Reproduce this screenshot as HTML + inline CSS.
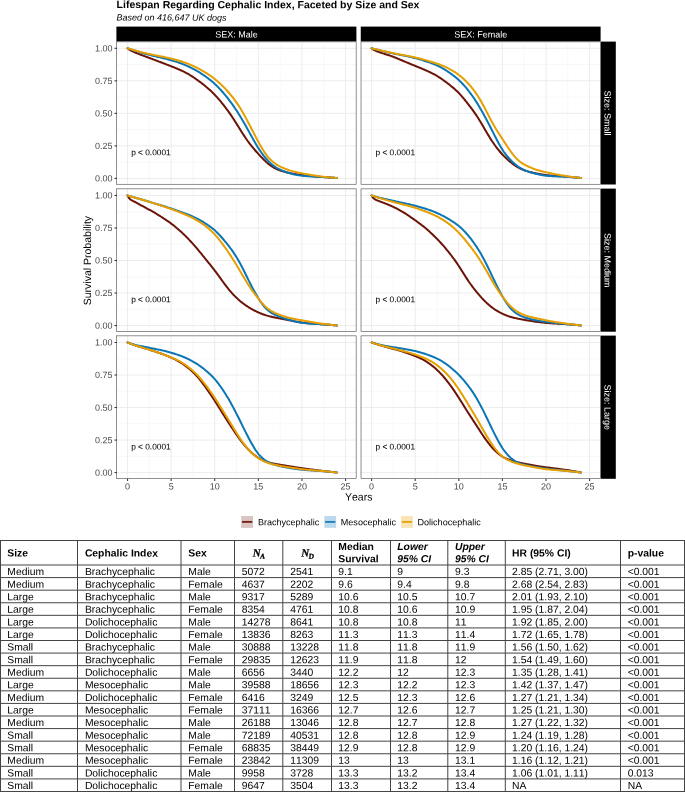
<!DOCTYPE html>
<html><head><meta charset="utf-8"><title>Lifespan Regarding Cephalic Index</title>
<style>
html,body{margin:0;padding:0;background:#fff;}
body{width:685px;height:792px;position:relative;overflow:hidden;font-family:"Liberation Sans", sans-serif;}
svg text{white-space:pre;text-rendering:geometricPrecision;font-kerning:none;}
svg{will-change:transform;}
</style></head><body>
<svg width="685" height="792" viewBox="0 0 685 792" style="position:absolute;left:0;top:0">
<rect width="685" height="792" fill="#fff"/>
<text x="116.6" y="8.1" font-size="10.5" font-weight="bold" fill="#000" transform="rotate(0.03 116.6 8.1)">Lifespan Regarding Cephalic Index, Faceted by Size and Sex</text>
<text x="116.5" y="20.6" font-size="9" font-style="italic" fill="#000" transform="rotate(0.03 116.5 20.6)">Based on 416,647 UK dogs</text>
<rect x="116.4" y="26.6" width="240.00" height="15.00" fill="#000"/>
<text x="236.40" y="37.6" font-size="9" fill="#fff" text-anchor="middle" transform="rotate(0.03 236.40 37.6)">SEX: Male</text>
<rect x="360.75" y="26.6" width="239.85" height="15.00" fill="#000"/>
<text x="480.68" y="37.6" font-size="9" fill="#fff" text-anchor="middle" transform="rotate(0.03 480.68 37.6)">SEX: Female</text>
<rect x="600.6" y="41.6" width="15.20" height="142.90" fill="#000"/>
<text transform="translate(604.5,113.05) rotate(90.03)" font-size="9" fill="#fff" text-anchor="middle">Size: Small</text>
<rect x="600.6" y="188.6" width="15.20" height="143.10" fill="#000"/>
<text transform="translate(604.5,260.15) rotate(90.03)" font-size="9" fill="#fff" text-anchor="middle">Size: Medium</text>
<rect x="600.6" y="335.6" width="15.20" height="143.20" fill="#000"/>
<text transform="translate(604.5,407.20) rotate(90.03)" font-size="9" fill="#fff" text-anchor="middle">Size: Large</text>
<g>
<rect x="116.4" y="41.6" width="240.00" height="142.90" fill="#fff"/>
<path d="M149.35 41.6V184.5M192.95 41.6V184.5M236.55 41.6V184.5M280.15 41.6V184.5M323.75 41.6V184.5M116.4 162.14H356.4M116.4 129.61H356.4M116.4 97.09H356.4M116.4 64.56H356.4" stroke="#f0f0f0" stroke-width="0.5" fill="none"/>
<path d="M127.55 41.6V184.5M171.15 41.6V184.5M214.75 41.6V184.5M258.35 41.6V184.5M301.95 41.6V184.5M345.55 41.6V184.5M116.4 178.40H356.4M116.4 145.88H356.4M116.4 113.35H356.4M116.4 80.82H356.4M116.4 48.30H356.4" stroke="#eaeaea" stroke-width="0.9" fill="none"/>
<path d="M127.55 48.30L128.42 48.97L129.29 49.56L130.17 50.07L131.04 50.55L131.91 51.00L132.78 51.43L133.65 51.84L134.53 52.23L135.40 52.62L136.27 52.98L137.14 53.34L138.01 53.69L138.89 54.03L139.76 54.36L140.63 54.69L141.50 55.02L142.37 55.34L143.25 55.66L144.12 55.98L144.99 56.31L145.86 56.63L146.73 56.96L147.61 57.29L148.48 57.61L149.35 57.94L150.22 58.27L151.09 58.60L151.97 58.93L152.84 59.26L153.71 59.59L154.58 59.92L155.45 60.25L156.33 60.58L157.20 60.90L158.07 61.23L158.94 61.56L159.81 61.89L160.69 62.22L161.56 62.55L162.43 62.88L163.30 63.22L164.17 63.55L165.05 63.89L165.92 64.22L166.79 64.56L167.66 64.90L168.53 65.24L169.41 65.58L170.28 65.92L171.15 66.26L172.02 66.60L172.89 66.95L173.77 67.30L174.64 67.65L175.51 68.00L176.38 68.36L177.25 68.72L178.13 69.09L179.00 69.46L179.87 69.85L180.74 70.24L181.61 70.64L182.49 71.04L183.36 71.46L184.23 71.89L185.10 72.33L185.97 72.79L186.85 73.26L187.72 73.74L188.59 74.24L189.46 74.75L190.33 75.28L191.21 75.82L192.08 76.38L192.95 76.95L193.82 77.54L194.69 78.13L195.57 78.74L196.44 79.35L197.31 79.97L198.18 80.60L199.05 81.24L199.93 81.88L200.80 82.54L201.67 83.20L202.54 83.87L203.41 84.56L204.29 85.25L205.16 85.96L206.03 86.67L206.90 87.40L207.77 88.15L208.65 88.91L209.52 89.69L210.39 90.48L211.26 91.29L212.13 92.13L213.01 92.98L213.88 93.86L214.75 94.77L215.62 95.69L216.49 96.65L217.37 97.62L218.24 98.62L219.11 99.64L219.98 100.67L220.85 101.73L221.73 102.80L222.60 103.89L223.47 104.99L224.34 106.10L225.21 107.23L226.09 108.37L226.96 109.53L227.83 110.71L228.70 111.91L229.57 113.13L230.45 114.38L231.32 115.65L232.19 116.94L233.06 118.26L233.93 119.60L234.81 120.97L235.68 122.35L236.55 123.75L237.42 125.15L238.29 126.56L239.17 127.96L240.04 129.36L240.91 130.75L241.78 132.13L242.65 133.49L243.53 134.84L244.40 136.16L245.27 137.46L246.14 138.74L247.01 139.99L247.89 141.21L248.76 142.40L249.63 143.57L250.50 144.70L251.37 145.81L252.25 146.89L253.12 147.94L253.99 148.98L254.86 149.99L255.73 150.99L256.61 151.98L257.48 152.95L258.35 153.92L259.22 154.87L260.09 155.82L260.97 156.75L261.84 157.67L262.71 158.57L263.58 159.45L264.45 160.31L265.33 161.14L266.20 161.94L267.07 162.72L267.94 163.46L268.81 164.18L269.69 164.86L270.56 165.51L271.43 166.12L272.30 166.70L273.17 167.25L274.05 167.76L274.92 168.24L275.79 168.68L276.66 169.10L277.53 169.48L278.41 169.84L279.28 170.18L280.15 170.49L281.02 170.78L281.89 171.06L282.77 171.32L283.64 171.56L284.51 171.80L285.38 172.02L286.25 172.23L287.13 172.44L288.00 172.63L288.87 172.82L289.74 173.01L290.61 173.18L291.49 173.36L292.36 173.53L293.23 173.69L294.10 173.85L294.97 174.01L295.85 174.16L296.72 174.31L297.59 174.45L298.46 174.59L299.33 174.72L300.21 174.85L301.08 174.97L301.95 175.09L302.82 175.20L303.69 175.31L304.57 175.41L305.44 175.51L306.31 175.60L307.18 175.69L308.05 175.78L308.93 175.87L309.80 175.95L310.67 176.03L311.54 176.11L312.41 176.19L313.29 176.26L314.16 176.34L315.03 176.41L315.90 176.48L316.77 176.55L317.65 176.62L318.52 176.69L319.39 176.76L320.26 176.83L321.13 176.89L322.01 176.96L322.88 177.03L323.75 177.09L324.62 177.16L325.49 177.22L326.37 177.29L327.24 177.35L328.11 177.41L328.98 177.47L329.85 177.53L330.73 177.59L331.60 177.65L332.47 177.71L333.34 177.77L334.21 177.83L335.09 177.89L335.96 177.95L336.83 178.01" stroke="#6b1408" stroke-width="2.0" fill="none" stroke-linejoin="round" stroke-linecap="round"/>
<path d="M127.55 48.30L128.42 48.57L129.29 48.84L130.17 49.11L131.04 49.38L131.91 49.66L132.78 49.94L133.65 50.22L134.53 50.49L135.40 50.77L136.27 51.05L137.14 51.33L138.01 51.60L138.89 51.87L139.76 52.14L140.63 52.41L141.50 52.68L142.37 52.94L143.25 53.20L144.12 53.45L144.99 53.70L145.86 53.94L146.73 54.18L147.61 54.42L148.48 54.65L149.35 54.88L150.22 55.10L151.09 55.31L151.97 55.53L152.84 55.73L153.71 55.94L154.58 56.14L155.45 56.34L156.33 56.54L157.20 56.74L158.07 56.94L158.94 57.14L159.81 57.34L160.69 57.55L161.56 57.76L162.43 57.97L163.30 58.19L164.17 58.41L165.05 58.63L165.92 58.86L166.79 59.09L167.66 59.32L168.53 59.56L169.41 59.80L170.28 60.04L171.15 60.28L172.02 60.53L172.89 60.78L173.77 61.04L174.64 61.29L175.51 61.56L176.38 61.83L177.25 62.11L178.13 62.39L179.00 62.69L179.87 62.99L180.74 63.30L181.61 63.63L182.49 63.97L183.36 64.31L184.23 64.67L185.10 65.04L185.97 65.41L186.85 65.80L187.72 66.19L188.59 66.60L189.46 67.01L190.33 67.44L191.21 67.87L192.08 68.31L192.95 68.76L193.82 69.23L194.69 69.70L195.57 70.18L196.44 70.67L197.31 71.17L198.18 71.68L199.05 72.20L199.93 72.73L200.80 73.28L201.67 73.83L202.54 74.40L203.41 74.98L204.29 75.58L205.16 76.18L206.03 76.80L206.90 77.44L207.77 78.09L208.65 78.75L209.52 79.44L210.39 80.13L211.26 80.85L212.13 81.59L213.01 82.34L213.88 83.11L214.75 83.91L215.62 84.72L216.49 85.56L217.37 86.41L218.24 87.29L219.11 88.19L219.98 89.11L220.85 90.05L221.73 91.01L222.60 92.00L223.47 93.00L224.34 94.03L225.21 95.07L226.09 96.14L226.96 97.23L227.83 98.33L228.70 99.46L229.57 100.61L230.45 101.78L231.32 102.97L232.19 104.19L233.06 105.42L233.93 106.67L234.81 107.95L235.68 109.25L236.55 110.57L237.42 111.91L238.29 113.28L239.17 114.67L240.04 116.09L240.91 117.52L241.78 118.99L242.65 120.47L243.53 121.97L244.40 123.50L245.27 125.04L246.14 126.59L247.01 128.16L247.89 129.73L248.76 131.31L249.63 132.89L250.50 134.48L251.37 136.06L252.25 137.63L253.12 139.19L253.99 140.73L254.86 142.25L255.73 143.75L256.61 145.22L257.48 146.65L258.35 148.05L259.22 149.41L260.09 150.73L260.97 152.01L261.84 153.24L262.71 154.43L263.58 155.58L264.45 156.69L265.33 157.75L266.20 158.77L267.07 159.74L267.94 160.68L268.81 161.56L269.69 162.41L270.56 163.22L271.43 163.98L272.30 164.71L273.17 165.40L274.05 166.05L274.92 166.66L275.79 167.24L276.66 167.78L277.53 168.29L278.41 168.77L279.28 169.23L280.15 169.66L281.02 170.07L281.89 170.46L282.77 170.83L283.64 171.19L284.51 171.53L285.38 171.86L286.25 172.17L287.13 172.47L288.00 172.76L288.87 173.04L289.74 173.31L290.61 173.56L291.49 173.79L292.36 174.02L293.23 174.23L294.10 174.43L294.97 174.62L295.85 174.79L296.72 174.96L297.59 175.11L298.46 175.25L299.33 175.38L300.21 175.50L301.08 175.61L301.95 175.71L302.82 175.80L303.69 175.89L304.57 175.97L305.44 176.04L306.31 176.11L307.18 176.17L308.05 176.23L308.93 176.29L309.80 176.35L310.67 176.40L311.54 176.45L312.41 176.49L313.29 176.54L314.16 176.59L315.03 176.63L315.90 176.68L316.77 176.72L317.65 176.77L318.52 176.81L319.39 176.86L320.26 176.91L321.13 176.96L322.01 177.01L322.88 177.06L323.75 177.11L324.62 177.17L325.49 177.23L326.37 177.28L327.24 177.34L328.11 177.40L328.98 177.46L329.85 177.52L330.73 177.58L331.60 177.64L332.47 177.70L333.34 177.76L334.21 177.82L335.09 177.89L335.96 177.95L336.83 178.01" stroke="#0a76b6" stroke-width="2.0" fill="none" stroke-linejoin="round" stroke-linecap="round"/>
<path d="M127.55 48.30L128.42 48.54L129.29 48.78L130.17 49.02L131.04 49.26L131.91 49.51L132.78 49.75L133.65 50.00L134.53 50.25L135.40 50.50L136.27 50.74L137.14 50.99L138.01 51.23L138.89 51.48L139.76 51.72L140.63 51.95L141.50 52.19L142.37 52.42L143.25 52.64L144.12 52.87L144.99 53.08L145.86 53.29L146.73 53.50L147.61 53.70L148.48 53.90L149.35 54.09L150.22 54.28L151.09 54.46L151.97 54.64L152.84 54.82L153.71 54.99L154.58 55.16L155.45 55.32L156.33 55.49L157.20 55.65L158.07 55.81L158.94 55.98L159.81 56.15L160.69 56.32L161.56 56.49L162.43 56.67L163.30 56.84L164.17 57.03L165.05 57.21L165.92 57.40L166.79 57.60L167.66 57.79L168.53 57.99L169.41 58.20L170.28 58.40L171.15 58.62L172.02 58.83L172.89 59.05L173.77 59.27L174.64 59.50L175.51 59.74L176.38 59.98L177.25 60.22L178.13 60.47L179.00 60.72L179.87 60.99L180.74 61.25L181.61 61.53L182.49 61.81L183.36 62.10L184.23 62.40L185.10 62.70L185.97 63.02L186.85 63.34L187.72 63.67L188.59 64.01L189.46 64.35L190.33 64.71L191.21 65.08L192.08 65.45L192.95 65.84L193.82 66.24L194.69 66.64L195.57 67.06L196.44 67.48L197.31 67.92L198.18 68.37L199.05 68.82L199.93 69.29L200.80 69.77L201.67 70.26L202.54 70.76L203.41 71.27L204.29 71.79L205.16 72.33L206.03 72.87L206.90 73.43L207.77 74.00L208.65 74.58L209.52 75.17L210.39 75.78L211.26 76.40L212.13 77.04L213.01 77.69L213.88 78.36L214.75 79.05L215.62 79.75L216.49 80.47L217.37 81.20L218.24 81.96L219.11 82.73L219.98 83.52L220.85 84.33L221.73 85.16L222.60 86.00L223.47 86.87L224.34 87.76L225.21 88.66L226.09 89.59L226.96 90.53L227.83 91.50L228.70 92.49L229.57 93.51L230.45 94.54L231.32 95.60L232.19 96.69L233.06 97.81L233.93 98.95L234.81 100.12L235.68 101.32L236.55 102.55L237.42 103.82L238.29 105.12L239.17 106.46L240.04 107.84L240.91 109.25L241.78 110.70L242.65 112.20L243.53 113.72L244.40 115.28L245.27 116.87L246.14 118.48L247.01 120.12L247.89 121.77L248.76 123.44L249.63 125.12L250.50 126.80L251.37 128.49L252.25 130.18L253.12 131.87L253.99 133.55L254.86 135.22L255.73 136.89L256.61 138.54L257.48 140.18L258.35 141.79L259.22 143.38L260.09 144.94L260.97 146.47L261.84 147.96L262.71 149.41L263.58 150.80L264.45 152.14L265.33 153.41L266.20 154.62L267.07 155.76L267.94 156.84L268.81 157.85L269.69 158.80L270.56 159.70L271.43 160.53L272.30 161.31L273.17 162.05L274.05 162.73L274.92 163.38L275.79 163.99L276.66 164.56L277.53 165.10L278.41 165.61L279.28 166.09L280.15 166.54L281.02 166.97L281.89 167.39L282.77 167.78L283.64 168.15L284.51 168.51L285.38 168.86L286.25 169.19L287.13 169.51L288.00 169.81L288.87 170.10L289.74 170.39L290.61 170.65L291.49 170.91L292.36 171.16L293.23 171.39L294.10 171.62L294.97 171.83L295.85 172.04L296.72 172.24L297.59 172.43L298.46 172.62L299.33 172.79L300.21 172.97L301.08 173.14L301.95 173.31L302.82 173.47L303.69 173.64L304.57 173.80L305.44 173.96L306.31 174.12L307.18 174.28L308.05 174.43L308.93 174.59L309.80 174.74L310.67 174.89L311.54 175.04L312.41 175.18L313.29 175.33L314.16 175.47L315.03 175.61L315.90 175.74L316.77 175.87L317.65 176.00L318.52 176.13L319.39 176.25L320.26 176.37L321.13 176.48L322.01 176.59L322.88 176.69L323.75 176.80L324.62 176.89L325.49 176.99L326.37 177.08L327.24 177.16L328.11 177.25L328.98 177.33L329.85 177.41L330.73 177.49L331.60 177.56L332.47 177.64L333.34 177.71L334.21 177.79L335.09 177.86L335.96 177.94L336.83 178.01" stroke="#e69f00" stroke-width="2.0" fill="none" stroke-linejoin="round" stroke-linecap="round"/>
<text x="131.20" y="155.20" font-size="8.3" fill="#000" stroke="#000" stroke-width="0.05" transform="rotate(0.03 131.20 155.20)">p &lt; 0.0001</text>
<rect x="116.67" y="41.87" width="239.46" height="142.36" fill="none" stroke="#333" stroke-width="0.54"/>
</g>
<g>
<rect x="360.75" y="41.6" width="239.85" height="142.90" fill="#fff"/>
<path d="M393.40 41.6V184.5M437.00 41.6V184.5M480.60 41.6V184.5M524.20 41.6V184.5M567.80 41.6V184.5M360.75 162.14H600.6M360.75 129.61H600.6M360.75 97.09H600.6M360.75 64.56H600.6" stroke="#f0f0f0" stroke-width="0.5" fill="none"/>
<path d="M371.60 41.6V184.5M415.20 41.6V184.5M458.80 41.6V184.5M502.40 41.6V184.5M546.00 41.6V184.5M589.60 41.6V184.5M360.75 178.40H600.6M360.75 145.88H600.6M360.75 113.35H600.6M360.75 80.82H600.6M360.75 48.30H600.6" stroke="#eaeaea" stroke-width="0.9" fill="none"/>
<path d="M371.60 48.30L372.47 48.97L373.34 49.55L374.22 50.02L375.09 50.45L375.96 50.85L376.83 51.22L377.70 51.58L378.58 51.91L379.45 52.23L380.32 52.53L381.19 52.82L382.06 53.10L382.94 53.38L383.81 53.65L384.68 53.92L385.55 54.19L386.42 54.46L387.30 54.74L388.17 55.02L389.04 55.31L389.91 55.60L390.78 55.91L391.66 56.22L392.53 56.54L393.40 56.86L394.27 57.20L395.14 57.54L396.02 57.89L396.89 58.25L397.76 58.61L398.63 58.98L399.50 59.35L400.38 59.72L401.25 60.09L402.12 60.46L402.99 60.84L403.86 61.21L404.74 61.58L405.61 61.95L406.48 62.31L407.35 62.68L408.22 63.04L409.10 63.39L409.97 63.75L410.84 64.11L411.71 64.46L412.58 64.81L413.46 65.17L414.33 65.52L415.20 65.88L416.07 66.24L416.94 66.59L417.82 66.95L418.69 67.32L419.56 67.68L420.43 68.04L421.30 68.41L422.18 68.78L423.05 69.15L423.92 69.52L424.79 69.90L425.66 70.28L426.54 70.66L427.41 71.05L428.28 71.44L429.15 71.85L430.02 72.26L430.90 72.68L431.77 73.11L432.64 73.56L433.51 74.01L434.38 74.48L435.26 74.97L436.13 75.47L437.00 75.98L437.87 76.51L438.74 77.05L439.62 77.61L440.49 78.18L441.36 78.77L442.23 79.37L443.10 79.98L443.98 80.61L444.85 81.25L445.72 81.89L446.59 82.55L447.46 83.22L448.34 83.90L449.21 84.58L450.08 85.27L450.95 85.96L451.82 86.67L452.70 87.38L453.57 88.11L454.44 88.86L455.31 89.63L456.18 90.42L457.06 91.24L457.93 92.09L458.80 92.97L459.67 93.89L460.54 94.84L461.42 95.82L462.29 96.83L463.16 97.87L464.03 98.92L464.90 100.00L465.78 101.09L466.65 102.18L467.52 103.29L468.39 104.40L469.26 105.52L470.14 106.65L471.01 107.80L471.88 108.95L472.75 110.13L473.62 111.34L474.50 112.57L475.37 113.83L476.24 115.13L477.11 116.46L477.98 117.83L478.86 119.22L479.73 120.65L480.60 122.10L481.47 123.57L482.34 125.05L483.22 126.54L484.09 128.03L484.96 129.53L485.83 131.01L486.70 132.49L487.58 133.95L488.45 135.39L489.32 136.82L490.19 138.22L491.06 139.59L491.94 140.93L492.81 142.25L493.68 143.52L494.55 144.77L495.42 145.97L496.30 147.15L497.17 148.28L498.04 149.39L498.91 150.46L499.78 151.50L500.66 152.52L501.53 153.50L502.40 154.45L503.27 155.38L504.14 156.28L505.02 157.15L505.89 158.00L506.76 158.82L507.63 159.62L508.50 160.40L509.38 161.15L510.25 161.88L511.12 162.59L511.99 163.28L512.86 163.94L513.74 164.58L514.61 165.20L515.48 165.79L516.35 166.35L517.22 166.89L518.10 167.40L518.97 167.88L519.84 168.34L520.71 168.77L521.58 169.17L522.46 169.55L523.33 169.90L524.20 170.24L525.07 170.55L525.94 170.84L526.82 171.12L527.69 171.38L528.56 171.63L529.43 171.86L530.30 172.08L531.18 172.29L532.05 172.50L532.92 172.69L533.79 172.88L534.66 173.06L535.54 173.24L536.41 173.41L537.28 173.59L538.15 173.75L539.02 173.92L539.90 174.08L540.77 174.24L541.64 174.39L542.51 174.54L543.38 174.68L544.26 174.81L545.13 174.93L546.00 175.05L546.87 175.15L547.74 175.25L548.62 175.34L549.49 175.43L550.36 175.51L551.23 175.58L552.10 175.65L552.98 175.72L553.85 175.78L554.72 175.84L555.59 175.90L556.46 175.96L557.34 176.01L558.21 176.07L559.08 176.12L559.95 176.18L560.82 176.23L561.70 176.29L562.57 176.35L563.44 176.41L564.31 176.47L565.18 176.53L566.06 176.60L566.93 176.67L567.80 176.74L568.67 176.81L569.54 176.89L570.42 176.97L571.29 177.05L572.16 177.13L573.03 177.21L573.90 177.30L574.78 177.39L575.65 177.47L576.52 177.56L577.39 177.65L578.26 177.74L579.14 177.83L580.01 177.92L580.88 178.01" stroke="#6b1408" stroke-width="2.0" fill="none" stroke-linejoin="round" stroke-linecap="round"/>
<path d="M371.60 48.30L372.47 48.51L373.34 48.72L374.22 48.93L375.09 49.14L375.96 49.36L376.83 49.57L377.70 49.79L378.58 50.00L379.45 50.22L380.32 50.43L381.19 50.64L382.06 50.86L382.94 51.07L383.81 51.28L384.68 51.49L385.55 51.70L386.42 51.90L387.30 52.11L388.17 52.31L389.04 52.51L389.91 52.71L390.78 52.90L391.66 53.09L392.53 53.28L393.40 53.47L394.27 53.66L395.14 53.84L396.02 54.02L396.89 54.20L397.76 54.37L398.63 54.55L399.50 54.72L400.38 54.90L401.25 55.07L402.12 55.24L402.99 55.42L403.86 55.59L404.74 55.77L405.61 55.95L406.48 56.13L407.35 56.31L408.22 56.50L409.10 56.69L409.97 56.88L410.84 57.08L411.71 57.28L412.58 57.48L413.46 57.69L414.33 57.91L415.20 58.14L416.07 58.37L416.94 58.60L417.82 58.84L418.69 59.09L419.56 59.34L420.43 59.60L421.30 59.86L422.18 60.13L423.05 60.40L423.92 60.67L424.79 60.94L425.66 61.22L426.54 61.50L427.41 61.79L428.28 62.08L429.15 62.37L430.02 62.67L430.90 62.98L431.77 63.30L432.64 63.63L433.51 63.97L434.38 64.32L435.26 64.68L436.13 65.06L437.00 65.45L437.87 65.85L438.74 66.27L439.62 66.70L440.49 67.15L441.36 67.61L442.23 68.09L443.10 68.59L443.98 69.10L444.85 69.63L445.72 70.18L446.59 70.74L447.46 71.31L448.34 71.90L449.21 72.50L450.08 73.11L450.95 73.73L451.82 74.37L452.70 75.01L453.57 75.68L454.44 76.36L455.31 77.06L456.18 77.78L457.06 78.52L457.93 79.29L458.80 80.09L459.67 80.91L460.54 81.75L461.42 82.63L462.29 83.53L463.16 84.47L464.03 85.43L464.90 86.41L465.78 87.42L466.65 88.46L467.52 89.53L468.39 90.62L469.26 91.74L470.14 92.89L471.01 94.06L471.88 95.26L472.75 96.49L473.62 97.75L474.50 99.05L475.37 100.37L476.24 101.72L477.11 103.10L477.98 104.52L478.86 105.96L479.73 107.43L480.60 108.93L481.47 110.45L482.34 112.00L483.22 113.57L484.09 115.16L484.96 116.77L485.83 118.40L486.70 120.04L487.58 121.70L488.45 123.37L489.32 125.05L490.19 126.75L491.06 128.45L491.94 130.17L492.81 131.89L493.68 133.61L494.55 135.33L495.42 137.05L496.30 138.75L497.17 140.43L498.04 142.08L498.91 143.70L499.78 145.27L500.66 146.78L501.53 148.24L502.40 149.64L503.27 150.98L504.14 152.25L505.02 153.46L505.89 154.61L506.76 155.71L507.63 156.77L508.50 157.77L509.38 158.74L510.25 159.66L511.12 160.55L511.99 161.41L512.86 162.23L513.74 163.02L514.61 163.78L515.48 164.51L516.35 165.20L517.22 165.86L518.10 166.49L518.97 167.08L519.84 167.64L520.71 168.17L521.58 168.67L522.46 169.13L523.33 169.57L524.20 169.99L525.07 170.38L525.94 170.74L526.82 171.09L527.69 171.41L528.56 171.72L529.43 172.01L530.30 172.28L531.18 172.54L532.05 172.79L532.92 173.02L533.79 173.25L534.66 173.47L535.54 173.68L536.41 173.89L537.28 174.09L538.15 174.28L539.02 174.47L539.90 174.65L540.77 174.83L541.64 174.99L542.51 175.15L543.38 175.29L544.26 175.42L545.13 175.55L546.00 175.65L546.87 175.75L547.74 175.84L548.62 175.92L549.49 175.98L550.36 176.05L551.23 176.10L552.10 176.15L552.98 176.19L553.85 176.24L554.72 176.28L555.59 176.31L556.46 176.35L557.34 176.38L558.21 176.42L559.08 176.45L559.95 176.49L560.82 176.52L561.70 176.56L562.57 176.60L563.44 176.64L564.31 176.68L565.18 176.72L566.06 176.77L566.93 176.83L567.80 176.88L568.67 176.94L569.54 177.00L570.42 177.07L571.29 177.14L572.16 177.21L573.03 177.28L573.90 177.36L574.78 177.44L575.65 177.52L576.52 177.60L577.39 177.68L578.26 177.76L579.14 177.84L580.01 177.93L580.88 178.01" stroke="#0a76b6" stroke-width="2.0" fill="none" stroke-linejoin="round" stroke-linecap="round"/>
<path d="M371.60 48.30L372.47 48.50L373.34 48.70L374.22 48.90L375.09 49.10L375.96 49.30L376.83 49.51L377.70 49.71L378.58 49.92L379.45 50.12L380.32 50.32L381.19 50.53L382.06 50.73L382.94 50.93L383.81 51.13L384.68 51.33L385.55 51.53L386.42 51.72L387.30 51.92L388.17 52.11L389.04 52.30L389.91 52.49L390.78 52.67L391.66 52.85L392.53 53.04L393.40 53.22L394.27 53.39L395.14 53.57L396.02 53.74L396.89 53.91L397.76 54.08L398.63 54.25L399.50 54.41L400.38 54.58L401.25 54.74L402.12 54.90L402.99 55.07L403.86 55.23L404.74 55.39L405.61 55.55L406.48 55.72L407.35 55.88L408.22 56.05L409.10 56.22L409.97 56.39L410.84 56.56L411.71 56.73L412.58 56.91L413.46 57.09L414.33 57.28L415.20 57.47L416.07 57.66L416.94 57.87L417.82 58.07L418.69 58.29L419.56 58.50L420.43 58.72L421.30 58.95L422.18 59.18L423.05 59.42L423.92 59.66L424.79 59.90L425.66 60.15L426.54 60.40L427.41 60.65L428.28 60.91L429.15 61.17L430.02 61.43L430.90 61.70L431.77 61.96L432.64 62.23L433.51 62.51L434.38 62.78L435.26 63.06L436.13 63.35L437.00 63.64L437.87 63.93L438.74 64.24L439.62 64.55L440.49 64.88L441.36 65.21L442.23 65.56L443.10 65.92L443.98 66.29L444.85 66.67L445.72 67.07L446.59 67.48L447.46 67.91L448.34 68.35L449.21 68.80L450.08 69.27L450.95 69.76L451.82 70.26L452.70 70.78L453.57 71.31L454.44 71.87L455.31 72.44L456.18 73.03L457.06 73.65L457.93 74.28L458.80 74.93L459.67 75.61L460.54 76.31L461.42 77.03L462.29 77.78L463.16 78.55L464.03 79.35L464.90 80.17L465.78 81.02L466.65 81.89L467.52 82.80L468.39 83.73L469.26 84.69L470.14 85.69L471.01 86.71L471.88 87.77L472.75 88.87L473.62 90.01L474.50 91.18L475.37 92.40L476.24 93.66L477.11 94.96L477.98 96.30L478.86 97.69L479.73 99.12L480.60 100.59L481.47 102.10L482.34 103.65L483.22 105.23L484.09 106.84L484.96 108.49L485.83 110.16L486.70 111.84L487.58 113.54L488.45 115.24L489.32 116.94L490.19 118.63L491.06 120.29L491.94 121.92L492.81 123.51L493.68 125.06L494.55 126.57L495.42 128.04L496.30 129.47L497.17 130.87L498.04 132.24L498.91 133.59L499.78 134.93L500.66 136.26L501.53 137.60L502.40 138.93L503.27 140.27L504.14 141.61L505.02 142.96L505.89 144.30L506.76 145.63L507.63 146.95L508.50 148.25L509.38 149.52L510.25 150.76L511.12 151.97L511.99 153.14L512.86 154.27L513.74 155.35L514.61 156.39L515.48 157.38L516.35 158.32L517.22 159.20L518.10 160.03L518.97 160.81L519.84 161.53L520.71 162.20L521.58 162.82L522.46 163.40L523.33 163.94L524.20 164.44L525.07 164.92L525.94 165.37L526.82 165.81L527.69 166.23L528.56 166.63L529.43 167.02L530.30 167.41L531.18 167.78L532.05 168.14L532.92 168.49L533.79 168.83L534.66 169.15L535.54 169.46L536.41 169.76L537.28 170.04L538.15 170.31L539.02 170.56L539.90 170.81L540.77 171.04L541.64 171.26L542.51 171.47L543.38 171.68L544.26 171.88L545.13 172.07L546.00 172.26L546.87 172.45L547.74 172.64L548.62 172.82L549.49 173.00L550.36 173.18L551.23 173.35L552.10 173.53L552.98 173.70L553.85 173.87L554.72 174.04L555.59 174.20L556.46 174.37L557.34 174.53L558.21 174.69L559.08 174.85L559.95 175.00L560.82 175.16L561.70 175.31L562.57 175.46L563.44 175.60L564.31 175.74L565.18 175.88L566.06 176.02L566.93 176.15L567.80 176.29L568.67 176.41L569.54 176.54L570.42 176.66L571.29 176.78L572.16 176.90L573.03 177.02L573.90 177.13L574.78 177.24L575.65 177.35L576.52 177.46L577.39 177.57L578.26 177.68L579.14 177.79L580.01 177.90L580.88 178.01" stroke="#e69f00" stroke-width="2.0" fill="none" stroke-linejoin="round" stroke-linecap="round"/>
<text x="375.55" y="155.20" font-size="8.3" fill="#000" stroke="#000" stroke-width="0.05" transform="rotate(0.03 375.55 155.20)">p &lt; 0.0001</text>
<rect x="361.02" y="41.87" width="239.31" height="142.36" fill="none" stroke="#333" stroke-width="0.54"/>
</g>
<g>
<rect x="116.4" y="188.6" width="240.00" height="143.10" fill="#fff"/>
<path d="M149.35 188.6V331.7M192.95 188.6V331.7M236.55 188.6V331.7M280.15 188.6V331.7M323.75 188.6V331.7M116.4 309.29H356.4M116.4 276.76H356.4M116.4 244.24H356.4M116.4 211.71H356.4" stroke="#f0f0f0" stroke-width="0.5" fill="none"/>
<path d="M127.55 188.6V331.7M171.15 188.6V331.7M214.75 188.6V331.7M258.35 188.6V331.7M301.95 188.6V331.7M345.55 188.6V331.7M116.4 325.55H356.4M116.4 293.02H356.4M116.4 260.50H356.4M116.4 227.97H356.4M116.4 195.45H356.4" stroke="#eaeaea" stroke-width="0.9" fill="none"/>
<path d="M127.55 195.45L128.42 197.10L129.29 198.35L130.17 199.21L131.04 199.87L131.91 200.41L132.78 200.88L133.65 201.32L134.53 201.76L135.40 202.20L136.27 202.66L137.14 203.13L138.01 203.60L138.89 204.07L139.76 204.55L140.63 205.03L141.50 205.51L142.37 205.98L143.25 206.46L144.12 206.93L144.99 207.40L145.86 207.87L146.73 208.34L147.61 208.81L148.48 209.28L149.35 209.76L150.22 210.23L151.09 210.72L151.97 211.20L152.84 211.70L153.71 212.20L154.58 212.71L155.45 213.23L156.33 213.75L157.20 214.28L158.07 214.82L158.94 215.36L159.81 215.91L160.69 216.47L161.56 217.02L162.43 217.59L163.30 218.15L164.17 218.73L165.05 219.30L165.92 219.89L166.79 220.48L167.66 221.07L168.53 221.68L169.41 222.30L170.28 222.93L171.15 223.57L172.02 224.22L172.89 224.89L173.77 225.57L174.64 226.26L175.51 226.97L176.38 227.69L177.25 228.42L178.13 229.17L179.00 229.93L179.87 230.71L180.74 231.49L181.61 232.29L182.49 233.11L183.36 233.93L184.23 234.77L185.10 235.62L185.97 236.49L186.85 237.37L187.72 238.26L188.59 239.16L189.46 240.08L190.33 241.01L191.21 241.96L192.08 242.91L192.95 243.88L193.82 244.87L194.69 245.86L195.57 246.87L196.44 247.89L197.31 248.93L198.18 249.97L199.05 251.03L199.93 252.09L200.80 253.16L201.67 254.24L202.54 255.32L203.41 256.40L204.29 257.47L205.16 258.55L206.03 259.62L206.90 260.70L207.77 261.76L208.65 262.83L209.52 263.90L210.39 264.98L211.26 266.06L212.13 267.15L213.01 268.26L213.88 269.38L214.75 270.52L215.62 271.68L216.49 272.85L217.37 274.04L218.24 275.23L219.11 276.44L219.98 277.65L220.85 278.86L221.73 280.07L222.60 281.28L223.47 282.47L224.34 283.65L225.21 284.81L226.09 285.96L226.96 287.09L227.83 288.20L228.70 289.28L229.57 290.34L230.45 291.37L231.32 292.38L232.19 293.36L233.06 294.31L233.93 295.23L234.81 296.12L235.68 296.99L236.55 297.83L237.42 298.64L238.29 299.43L239.17 300.20L240.04 300.94L240.91 301.66L241.78 302.37L242.65 303.05L243.53 303.71L244.40 304.35L245.27 304.97L246.14 305.58L247.01 306.17L247.89 306.74L248.76 307.29L249.63 307.83L250.50 308.36L251.37 308.86L252.25 309.36L253.12 309.84L253.99 310.30L254.86 310.75L255.73 311.19L256.61 311.61L257.48 312.02L258.35 312.42L259.22 312.80L260.09 313.17L260.97 313.53L261.84 313.87L262.71 314.20L263.58 314.52L264.45 314.82L265.33 315.11L266.20 315.38L267.07 315.65L267.94 315.90L268.81 316.13L269.69 316.36L270.56 316.57L271.43 316.78L272.30 316.98L273.17 317.17L274.05 317.35L274.92 317.53L275.79 317.71L276.66 317.88L277.53 318.04L278.41 318.21L279.28 318.37L280.15 318.53L281.02 318.69L281.89 318.85L282.77 319.01L283.64 319.17L284.51 319.33L285.38 319.49L286.25 319.65L287.13 319.82L288.00 319.99L288.87 320.15L289.74 320.32L290.61 320.50L291.49 320.67L292.36 320.84L293.23 321.01L294.10 321.19L294.97 321.36L295.85 321.53L296.72 321.70L297.59 321.86L298.46 322.02L299.33 322.17L300.21 322.32L301.08 322.45L301.95 322.58L302.82 322.70L303.69 322.80L304.57 322.91L305.44 323.00L306.31 323.09L307.18 323.17L308.05 323.25L308.93 323.33L309.80 323.40L310.67 323.47L311.54 323.53L312.41 323.60L313.29 323.66L314.16 323.72L315.03 323.78L315.90 323.84L316.77 323.90L317.65 323.96L318.52 324.02L319.39 324.08L320.26 324.14L321.13 324.20L322.01 324.26L322.88 324.33L323.75 324.39L324.62 324.46L325.49 324.52L326.37 324.59L327.24 324.66L328.11 324.73L328.98 324.80L329.85 324.86L330.73 324.93L331.60 325.00L332.47 325.07L333.34 325.14L334.21 325.21L335.09 325.28L335.96 325.35L336.83 325.42" stroke="#6b1408" stroke-width="2.0" fill="none" stroke-linejoin="round" stroke-linecap="round"/>
<path d="M127.55 195.45L128.42 195.70L129.29 195.94L130.17 196.19L131.04 196.43L131.91 196.68L132.78 196.93L133.65 197.17L134.53 197.42L135.40 197.67L136.27 197.93L137.14 198.18L138.01 198.44L138.89 198.70L139.76 198.96L140.63 199.22L141.50 199.48L142.37 199.74L143.25 200.00L144.12 200.26L144.99 200.52L145.86 200.78L146.73 201.04L147.61 201.30L148.48 201.56L149.35 201.82L150.22 202.08L151.09 202.34L151.97 202.60L152.84 202.86L153.71 203.12L154.58 203.38L155.45 203.64L156.33 203.90L157.20 204.16L158.07 204.42L158.94 204.69L159.81 204.95L160.69 205.21L161.56 205.47L162.43 205.74L163.30 206.01L164.17 206.27L165.05 206.54L165.92 206.82L166.79 207.09L167.66 207.37L168.53 207.65L169.41 207.93L170.28 208.22L171.15 208.51L172.02 208.80L172.89 209.10L173.77 209.40L174.64 209.71L175.51 210.01L176.38 210.32L177.25 210.63L178.13 210.94L179.00 211.25L179.87 211.57L180.74 211.88L181.61 212.19L182.49 212.50L183.36 212.82L184.23 213.13L185.10 213.45L185.97 213.78L186.85 214.11L187.72 214.45L188.59 214.79L189.46 215.14L190.33 215.50L191.21 215.87L192.08 216.25L192.95 216.64L193.82 217.04L194.69 217.45L195.57 217.87L196.44 218.30L197.31 218.75L198.18 219.21L199.05 219.68L199.93 220.17L200.80 220.67L201.67 221.18L202.54 221.69L203.41 222.22L204.29 222.76L205.16 223.31L206.03 223.87L206.90 224.44L207.77 225.01L208.65 225.61L209.52 226.21L210.39 226.84L211.26 227.48L212.13 228.15L213.01 228.85L213.88 229.57L214.75 230.33L215.62 231.12L216.49 231.94L217.37 232.80L218.24 233.69L219.11 234.60L219.98 235.54L220.85 236.50L221.73 237.49L222.60 238.49L223.47 239.51L224.34 240.54L225.21 241.59L226.09 242.65L226.96 243.73L227.83 244.83L228.70 245.95L229.57 247.09L230.45 248.26L231.32 249.46L232.19 250.68L233.06 251.94L233.93 253.23L234.81 254.55L235.68 255.91L236.55 257.31L237.42 258.75L238.29 260.23L239.17 261.76L240.04 263.32L240.91 264.93L241.78 266.58L242.65 268.26L243.53 269.98L244.40 271.72L245.27 273.48L246.14 275.26L247.01 277.04L247.89 278.82L248.76 280.58L249.63 282.33L250.50 284.06L251.37 285.77L252.25 287.45L253.12 289.09L253.99 290.71L254.86 292.29L255.73 293.83L256.61 295.34L257.48 296.81L258.35 298.24L259.22 299.62L260.09 300.96L260.97 302.24L261.84 303.47L262.71 304.65L263.58 305.76L264.45 306.81L265.33 307.78L266.20 308.69L267.07 309.53L267.94 310.31L268.81 311.02L269.69 311.67L270.56 312.28L271.43 312.83L272.30 313.35L273.17 313.83L274.05 314.29L274.92 314.72L275.79 315.12L276.66 315.51L277.53 315.89L278.41 316.25L279.28 316.59L280.15 316.93L281.02 317.25L281.89 317.57L282.77 317.87L283.64 318.17L284.51 318.45L285.38 318.73L286.25 319.00L287.13 319.27L288.00 319.53L288.87 319.78L289.74 320.03L290.61 320.27L291.49 320.51L292.36 320.74L293.23 320.97L294.10 321.19L294.97 321.41L295.85 321.62L296.72 321.82L297.59 322.01L298.46 322.19L299.33 322.36L300.21 322.52L301.08 322.66L301.95 322.80L302.82 322.92L303.69 323.03L304.57 323.13L305.44 323.22L306.31 323.30L307.18 323.37L308.05 323.44L308.93 323.50L309.80 323.56L310.67 323.62L311.54 323.68L312.41 323.73L313.29 323.78L314.16 323.83L315.03 323.88L315.90 323.92L316.77 323.97L317.65 324.02L318.52 324.07L319.39 324.12L320.26 324.17L321.13 324.23L322.01 324.28L322.88 324.34L323.75 324.40L324.62 324.46L325.49 324.52L326.37 324.59L327.24 324.65L328.11 324.72L328.98 324.79L329.85 324.86L330.73 324.93L331.60 325.00L332.47 325.07L333.34 325.14L334.21 325.21L335.09 325.28L335.96 325.35L336.83 325.42" stroke="#0a76b6" stroke-width="2.0" fill="none" stroke-linejoin="round" stroke-linecap="round"/>
<path d="M127.55 195.45L128.42 195.70L129.29 195.94L130.17 196.19L131.04 196.43L131.91 196.68L132.78 196.93L133.65 197.17L134.53 197.42L135.40 197.67L136.27 197.93L137.14 198.18L138.01 198.44L138.89 198.69L139.76 198.95L140.63 199.21L141.50 199.48L142.37 199.74L143.25 200.00L144.12 200.27L144.99 200.54L145.86 200.81L146.73 201.08L147.61 201.35L148.48 201.62L149.35 201.89L150.22 202.16L151.09 202.43L151.97 202.70L152.84 202.98L153.71 203.25L154.58 203.52L155.45 203.80L156.33 204.07L157.20 204.34L158.07 204.62L158.94 204.89L159.81 205.17L160.69 205.45L161.56 205.73L162.43 206.02L163.30 206.30L164.17 206.59L165.05 206.88L165.92 207.18L166.79 207.48L167.66 207.78L168.53 208.09L169.41 208.39L170.28 208.71L171.15 209.03L172.02 209.35L172.89 209.67L173.77 210.00L174.64 210.33L175.51 210.66L176.38 211.00L177.25 211.34L178.13 211.68L179.00 212.02L179.87 212.36L180.74 212.70L181.61 213.05L182.49 213.40L183.36 213.75L184.23 214.11L185.10 214.47L185.97 214.84L186.85 215.21L187.72 215.60L188.59 215.99L189.46 216.40L190.33 216.81L191.21 217.24L192.08 217.68L192.95 218.13L193.82 218.59L194.69 219.06L195.57 219.55L196.44 220.04L197.31 220.56L198.18 221.08L199.05 221.62L199.93 222.17L200.80 222.74L201.67 223.32L202.54 223.91L203.41 224.53L204.29 225.16L205.16 225.81L206.03 226.48L206.90 227.16L207.77 227.87L208.65 228.60L209.52 229.36L210.39 230.13L211.26 230.94L212.13 231.77L213.01 232.64L213.88 233.53L214.75 234.46L215.62 235.41L216.49 236.40L217.37 237.42L218.24 238.47L219.11 239.55L219.98 240.65L220.85 241.78L221.73 242.93L222.60 244.10L223.47 245.29L224.34 246.49L225.21 247.71L226.09 248.95L226.96 250.21L227.83 251.48L228.70 252.77L229.57 254.07L230.45 255.39L231.32 256.73L232.19 258.09L233.06 259.46L233.93 260.85L234.81 262.25L235.68 263.67L236.55 265.10L237.42 266.55L238.29 268.00L239.17 269.47L240.04 270.94L240.91 272.42L241.78 273.90L242.65 275.39L243.53 276.86L244.40 278.34L245.27 279.79L246.14 281.24L247.01 282.66L247.89 284.05L248.76 285.41L249.63 286.75L250.50 288.05L251.37 289.32L252.25 290.56L253.12 291.77L253.99 292.95L254.86 294.11L255.73 295.26L256.61 296.38L257.48 297.49L258.35 298.59L259.22 299.67L260.09 300.73L260.97 301.77L261.84 302.78L262.71 303.76L263.58 304.70L264.45 305.59L265.33 306.44L266.20 307.24L267.07 307.99L267.94 308.68L268.81 309.33L269.69 309.93L270.56 310.49L271.43 311.01L272.30 311.50L273.17 311.96L274.05 312.39L274.92 312.81L275.79 313.20L276.66 313.59L277.53 313.95L278.41 314.31L279.28 314.65L280.15 314.98L281.02 315.30L281.89 315.61L282.77 315.91L283.64 316.19L284.51 316.47L285.38 316.73L286.25 316.99L287.13 317.23L288.00 317.47L288.87 317.70L289.74 317.92L290.61 318.13L291.49 318.33L292.36 318.53L293.23 318.71L294.10 318.90L294.97 319.07L295.85 319.24L296.72 319.41L297.59 319.57L298.46 319.73L299.33 319.89L300.21 320.05L301.08 320.20L301.95 320.35L302.82 320.51L303.69 320.66L304.57 320.81L305.44 320.97L306.31 321.12L307.18 321.28L308.05 321.43L308.93 321.59L309.80 321.74L310.67 321.89L311.54 322.05L312.41 322.20L313.29 322.35L314.16 322.49L315.03 322.64L315.90 322.78L316.77 322.93L317.65 323.07L318.52 323.20L319.39 323.33L320.26 323.46L321.13 323.59L322.01 323.71L322.88 323.83L323.75 323.95L324.62 324.06L325.49 324.17L326.37 324.28L327.24 324.38L328.11 324.48L328.98 324.58L329.85 324.68L330.73 324.77L331.60 324.87L332.47 324.96L333.34 325.05L334.21 325.14L335.09 325.24L335.96 325.33L336.83 325.42" stroke="#e69f00" stroke-width="2.0" fill="none" stroke-linejoin="round" stroke-linecap="round"/>
<text x="131.20" y="302.35" font-size="8.3" fill="#000" stroke="#000" stroke-width="0.05" transform="rotate(0.03 131.20 302.35)">p &lt; 0.0001</text>
<rect x="116.67" y="188.87" width="239.46" height="142.56" fill="none" stroke="#333" stroke-width="0.54"/>
</g>
<g>
<rect x="360.75" y="188.6" width="239.85" height="143.10" fill="#fff"/>
<path d="M393.40 188.6V331.7M437.00 188.6V331.7M480.60 188.6V331.7M524.20 188.6V331.7M567.80 188.6V331.7M360.75 309.29H600.6M360.75 276.76H600.6M360.75 244.24H600.6M360.75 211.71H600.6" stroke="#f0f0f0" stroke-width="0.5" fill="none"/>
<path d="M371.60 188.6V331.7M415.20 188.6V331.7M458.80 188.6V331.7M502.40 188.6V331.7M546.00 188.6V331.7M589.60 188.6V331.7M360.75 325.55H600.6M360.75 293.02H600.6M360.75 260.50H600.6M360.75 227.97H600.6M360.75 195.45H600.6" stroke="#eaeaea" stroke-width="0.9" fill="none"/>
<path d="M371.60 195.45L372.47 196.97L373.34 198.10L374.22 198.84L375.09 199.39L375.96 199.83L376.83 200.22L377.70 200.57L378.58 200.91L379.45 201.25L380.32 201.58L381.19 201.92L382.06 202.26L382.94 202.59L383.81 202.93L384.68 203.26L385.55 203.60L386.42 203.94L387.30 204.30L388.17 204.65L389.04 205.02L389.91 205.39L390.78 205.77L391.66 206.15L392.53 206.55L393.40 206.95L394.27 207.36L395.14 207.78L396.02 208.21L396.89 208.66L397.76 209.11L398.63 209.58L399.50 210.05L400.38 210.54L401.25 211.04L402.12 211.56L402.99 212.08L403.86 212.62L404.74 213.16L405.61 213.71L406.48 214.28L407.35 214.85L408.22 215.43L409.10 216.02L409.97 216.62L410.84 217.22L411.71 217.83L412.58 218.44L413.46 219.06L414.33 219.68L415.20 220.30L416.07 220.92L416.94 221.55L417.82 222.19L418.69 222.82L419.56 223.47L420.43 224.12L421.30 224.78L422.18 225.46L423.05 226.14L423.92 226.84L424.79 227.55L425.66 228.28L426.54 229.02L427.41 229.78L428.28 230.55L429.15 231.33L430.02 232.12L430.90 232.93L431.77 233.74L432.64 234.57L433.51 235.41L434.38 236.26L435.26 237.12L436.13 237.99L437.00 238.87L437.87 239.77L438.74 240.68L439.62 241.60L440.49 242.54L441.36 243.49L442.23 244.46L443.10 245.44L443.98 246.44L444.85 247.46L445.72 248.49L446.59 249.54L447.46 250.60L448.34 251.68L449.21 252.77L450.08 253.88L450.95 255.01L451.82 256.15L452.70 257.31L453.57 258.49L454.44 259.69L455.31 260.91L456.18 262.15L457.06 263.42L457.93 264.71L458.80 266.03L459.67 267.36L460.54 268.72L461.42 270.09L462.29 271.48L463.16 272.86L464.03 274.25L464.90 275.63L465.78 277.00L466.65 278.34L467.52 279.67L468.39 280.97L469.26 282.25L470.14 283.49L471.01 284.72L471.88 285.91L472.75 287.08L473.62 288.23L474.50 289.36L475.37 290.46L476.24 291.55L477.11 292.61L477.98 293.65L478.86 294.68L479.73 295.68L480.60 296.66L481.47 297.63L482.34 298.56L483.22 299.48L484.09 300.38L484.96 301.25L485.83 302.10L486.70 302.92L487.58 303.72L488.45 304.50L489.32 305.25L490.19 305.98L491.06 306.68L491.94 307.36L492.81 308.01L493.68 308.63L494.55 309.24L495.42 309.81L496.30 310.37L497.17 310.90L498.04 311.41L498.91 311.91L499.78 312.38L500.66 312.84L501.53 313.28L502.40 313.70L503.27 314.10L504.14 314.50L505.02 314.87L505.89 315.23L506.76 315.57L507.63 315.90L508.50 316.21L509.38 316.51L510.25 316.78L511.12 317.04L511.99 317.29L512.86 317.52L513.74 317.74L514.61 317.95L515.48 318.14L516.35 318.33L517.22 318.52L518.10 318.69L518.97 318.86L519.84 319.03L520.71 319.20L521.58 319.36L522.46 319.52L523.33 319.68L524.20 319.83L525.07 319.99L525.94 320.14L526.82 320.29L527.69 320.44L528.56 320.58L529.43 320.72L530.30 320.86L531.18 321.00L532.05 321.13L532.92 321.26L533.79 321.39L534.66 321.52L535.54 321.65L536.41 321.77L537.28 321.89L538.15 322.00L539.02 322.12L539.90 322.23L540.77 322.34L541.64 322.44L542.51 322.54L543.38 322.63L544.26 322.73L545.13 322.81L546.00 322.89L546.87 322.97L547.74 323.04L548.62 323.11L549.49 323.18L550.36 323.24L551.23 323.29L552.10 323.35L552.98 323.40L553.85 323.45L554.72 323.50L555.59 323.55L556.46 323.60L557.34 323.65L558.21 323.69L559.08 323.74L559.95 323.79L560.82 323.84L561.70 323.89L562.57 323.94L563.44 323.99L564.31 324.04L565.18 324.10L566.06 324.15L566.93 324.22L567.80 324.28L568.67 324.34L569.54 324.41L570.42 324.48L571.29 324.55L572.16 324.63L573.03 324.70L573.90 324.78L574.78 324.86L575.65 324.94L576.52 325.02L577.39 325.10L578.26 325.18L579.14 325.26L580.01 325.34L580.88 325.42" stroke="#6b1408" stroke-width="2.0" fill="none" stroke-linejoin="round" stroke-linecap="round"/>
<path d="M371.60 195.45L372.47 195.70L373.34 195.95L374.22 196.21L375.09 196.47L375.96 196.72L376.83 196.97L377.70 197.21L378.58 197.45L379.45 197.68L380.32 197.90L381.19 198.11L382.06 198.32L382.94 198.52L383.81 198.72L384.68 198.91L385.55 199.11L386.42 199.30L387.30 199.49L388.17 199.69L389.04 199.88L389.91 200.08L390.78 200.27L391.66 200.46L392.53 200.66L393.40 200.85L394.27 201.04L395.14 201.24L396.02 201.43L396.89 201.62L397.76 201.80L398.63 201.99L399.50 202.18L400.38 202.36L401.25 202.55L402.12 202.73L402.99 202.92L403.86 203.11L404.74 203.29L405.61 203.48L406.48 203.68L407.35 203.87L408.22 204.07L409.10 204.27L409.97 204.47L410.84 204.68L411.71 204.89L412.58 205.10L413.46 205.32L414.33 205.54L415.20 205.77L416.07 206.00L416.94 206.23L417.82 206.47L418.69 206.71L419.56 206.95L420.43 207.20L421.30 207.45L422.18 207.71L423.05 207.97L423.92 208.23L424.79 208.50L425.66 208.77L426.54 209.05L427.41 209.33L428.28 209.62L429.15 209.91L430.02 210.21L430.90 210.53L431.77 210.85L432.64 211.18L433.51 211.52L434.38 211.87L435.26 212.23L436.13 212.60L437.00 212.99L437.87 213.38L438.74 213.79L439.62 214.21L440.49 214.63L441.36 215.07L442.23 215.52L443.10 215.98L443.98 216.44L444.85 216.92L445.72 217.41L446.59 217.90L447.46 218.40L448.34 218.91L449.21 219.43L450.08 219.96L450.95 220.49L451.82 221.03L452.70 221.59L453.57 222.16L454.44 222.74L455.31 223.34L456.18 223.97L457.06 224.61L457.93 225.29L458.80 225.99L459.67 226.73L460.54 227.49L461.42 228.29L462.29 229.12L463.16 229.98L464.03 230.87L464.90 231.79L465.78 232.74L466.65 233.71L467.52 234.72L468.39 235.74L469.26 236.80L470.14 237.88L471.01 238.99L471.88 240.13L472.75 241.30L473.62 242.50L474.50 243.73L475.37 244.99L476.24 246.29L477.11 247.63L477.98 249.00L478.86 250.41L479.73 251.85L480.60 253.33L481.47 254.85L482.34 256.41L483.22 258.01L484.09 259.64L484.96 261.31L485.83 263.01L486.70 264.74L487.58 266.51L488.45 268.29L489.32 270.10L490.19 271.92L491.06 273.75L491.94 275.58L492.81 277.41L493.68 279.23L494.55 281.04L495.42 282.84L496.30 284.62L497.17 286.37L498.04 288.10L498.91 289.80L499.78 291.47L500.66 293.10L501.53 294.69L502.40 296.24L503.27 297.75L504.14 299.21L505.02 300.62L505.89 301.98L506.76 303.28L507.63 304.51L508.50 305.69L509.38 306.80L510.25 307.84L511.12 308.81L511.99 309.72L512.86 310.57L513.74 311.36L514.61 312.08L515.48 312.76L516.35 313.38L517.22 313.95L518.10 314.48L518.97 314.96L519.84 315.41L520.71 315.82L521.58 316.20L522.46 316.55L523.33 316.88L524.20 317.18L525.07 317.47L525.94 317.74L526.82 318.00L527.69 318.25L528.56 318.49L529.43 318.72L530.30 318.95L531.18 319.17L532.05 319.38L532.92 319.59L533.79 319.79L534.66 319.98L535.54 320.17L536.41 320.35L537.28 320.52L538.15 320.68L539.02 320.84L539.90 320.99L540.77 321.13L541.64 321.27L542.51 321.40L543.38 321.53L544.26 321.65L545.13 321.77L546.00 321.88L546.87 322.00L547.74 322.11L548.62 322.21L549.49 322.32L550.36 322.42L551.23 322.52L552.10 322.63L552.98 322.72L553.85 322.82L554.72 322.92L555.59 323.01L556.46 323.11L557.34 323.20L558.21 323.29L559.08 323.38L559.95 323.47L560.82 323.56L561.70 323.65L562.57 323.73L563.44 323.82L564.31 323.90L565.18 323.99L566.06 324.07L566.93 324.16L567.80 324.24L568.67 324.32L569.54 324.41L570.42 324.49L571.29 324.57L572.16 324.65L573.03 324.72L573.90 324.80L574.78 324.88L575.65 324.96L576.52 325.04L577.39 325.11L578.26 325.19L579.14 325.27L580.01 325.34L580.88 325.42" stroke="#0a76b6" stroke-width="2.0" fill="none" stroke-linejoin="round" stroke-linecap="round"/>
<path d="M371.60 195.45L372.47 195.74L373.34 196.03L374.22 196.32L375.09 196.61L375.96 196.90L376.83 197.18L377.70 197.47L378.58 197.75L379.45 198.03L380.32 198.30L381.19 198.58L382.06 198.85L382.94 199.11L383.81 199.38L384.68 199.64L385.55 199.89L386.42 200.14L387.30 200.39L388.17 200.63L389.04 200.87L389.91 201.11L390.78 201.34L391.66 201.57L392.53 201.80L393.40 202.02L394.27 202.25L395.14 202.47L396.02 202.69L396.89 202.91L397.76 203.13L398.63 203.35L399.50 203.57L400.38 203.79L401.25 204.01L402.12 204.23L402.99 204.45L403.86 204.67L404.74 204.90L405.61 205.12L406.48 205.34L407.35 205.57L408.22 205.80L409.10 206.03L409.97 206.26L410.84 206.50L411.71 206.75L412.58 207.00L413.46 207.26L414.33 207.52L415.20 207.80L416.07 208.08L416.94 208.37L417.82 208.67L418.69 208.98L419.56 209.29L420.43 209.61L421.30 209.93L422.18 210.25L423.05 210.57L423.92 210.90L424.79 211.23L425.66 211.55L426.54 211.88L427.41 212.21L428.28 212.54L429.15 212.89L430.02 213.23L430.90 213.59L431.77 213.96L432.64 214.34L433.51 214.73L434.38 215.13L435.26 215.55L436.13 215.98L437.00 216.43L437.87 216.89L438.74 217.36L439.62 217.85L440.49 218.35L441.36 218.86L442.23 219.38L443.10 219.92L443.98 220.47L444.85 221.04L445.72 221.63L446.59 222.23L447.46 222.84L448.34 223.48L449.21 224.14L450.08 224.81L450.95 225.51L451.82 226.22L452.70 226.96L453.57 227.73L454.44 228.51L455.31 229.32L456.18 230.15L457.06 231.00L457.93 231.88L458.80 232.78L459.67 233.70L460.54 234.65L461.42 235.62L462.29 236.61L463.16 237.61L464.03 238.64L464.90 239.68L465.78 240.74L466.65 241.81L467.52 242.89L468.39 243.98L469.26 245.09L470.14 246.21L471.01 247.34L471.88 248.49L472.75 249.65L473.62 250.83L474.50 252.03L475.37 253.25L476.24 254.49L477.11 255.76L477.98 257.04L478.86 258.35L479.73 259.69L480.60 261.05L481.47 262.43L482.34 263.85L483.22 265.29L484.09 266.75L484.96 268.24L485.83 269.75L486.70 271.28L487.58 272.82L488.45 274.38L489.32 275.93L490.19 277.48L491.06 279.01L491.94 280.53L492.81 282.03L493.68 283.49L494.55 284.93L495.42 286.33L496.30 287.70L497.17 289.04L498.04 290.35L498.91 291.63L499.78 292.89L500.66 294.13L501.53 295.34L502.40 296.53L503.27 297.70L504.14 298.85L505.02 299.97L505.89 301.06L506.76 302.12L507.63 303.14L508.50 304.12L509.38 305.06L510.25 305.96L511.12 306.81L511.99 307.61L512.86 308.37L513.74 309.09L514.61 309.76L515.48 310.40L516.35 310.99L517.22 311.55L518.10 312.08L518.97 312.58L519.84 313.04L520.71 313.48L521.58 313.89L522.46 314.28L523.33 314.64L524.20 314.99L525.07 315.31L525.94 315.61L526.82 315.89L527.69 316.16L528.56 316.41L529.43 316.65L530.30 316.88L531.18 317.09L532.05 317.30L532.92 317.49L533.79 317.69L534.66 317.87L535.54 318.06L536.41 318.25L537.28 318.44L538.15 318.62L539.02 318.81L539.90 319.00L540.77 319.19L541.64 319.38L542.51 319.57L543.38 319.75L544.26 319.94L545.13 320.12L546.00 320.30L546.87 320.47L547.74 320.64L548.62 320.80L549.49 320.97L550.36 321.13L551.23 321.28L552.10 321.44L552.98 321.59L553.85 321.73L554.72 321.88L555.59 322.02L556.46 322.17L557.34 322.31L558.21 322.44L559.08 322.58L559.95 322.71L560.82 322.85L561.70 322.98L562.57 323.11L563.44 323.23L564.31 323.36L565.18 323.48L566.06 323.60L566.93 323.72L567.80 323.84L568.67 323.95L569.54 324.06L570.42 324.18L571.29 324.29L572.16 324.39L573.03 324.50L573.90 324.60L574.78 324.71L575.65 324.81L576.52 324.91L577.39 325.01L578.26 325.12L579.14 325.22L580.01 325.32L580.88 325.42" stroke="#e69f00" stroke-width="2.0" fill="none" stroke-linejoin="round" stroke-linecap="round"/>
<text x="375.55" y="302.35" font-size="8.3" fill="#000" stroke="#000" stroke-width="0.05" transform="rotate(0.03 375.55 302.35)">p &lt; 0.0001</text>
<rect x="361.02" y="188.87" width="239.31" height="142.56" fill="none" stroke="#333" stroke-width="0.54"/>
</g>
<g>
<rect x="116.4" y="335.6" width="240.00" height="143.20" fill="#fff"/>
<path d="M149.35 335.6V478.8M192.95 335.6V478.8M236.55 335.6V478.8M280.15 335.6V478.8M323.75 335.6V478.8M116.4 456.34H356.4M116.4 423.81H356.4M116.4 391.29H356.4M116.4 358.76H356.4" stroke="#f0f0f0" stroke-width="0.5" fill="none"/>
<path d="M127.55 335.6V478.8M171.15 335.6V478.8M214.75 335.6V478.8M258.35 335.6V478.8M301.95 335.6V478.8M345.55 335.6V478.8M116.4 472.60H356.4M116.4 440.07H356.4M116.4 407.55H356.4M116.4 375.02H356.4M116.4 342.50H356.4" stroke="#eaeaea" stroke-width="0.9" fill="none"/>
<path d="M127.55 342.50L128.42 342.83L129.29 343.16L130.17 343.50L131.04 343.83L131.91 344.17L132.78 344.50L133.65 344.82L134.53 345.13L135.40 345.43L136.27 345.72L137.14 346.01L138.01 346.28L138.89 346.55L139.76 346.81L140.63 347.07L141.50 347.33L142.37 347.59L143.25 347.84L144.12 348.10L144.99 348.36L145.86 348.61L146.73 348.87L147.61 349.13L148.48 349.39L149.35 349.65L150.22 349.92L151.09 350.19L151.97 350.46L152.84 350.74L153.71 351.02L154.58 351.31L155.45 351.60L156.33 351.90L157.20 352.20L158.07 352.51L158.94 352.82L159.81 353.13L160.69 353.45L161.56 353.77L162.43 354.09L163.30 354.42L164.17 354.74L165.05 355.08L165.92 355.41L166.79 355.75L167.66 356.10L168.53 356.46L169.41 356.82L170.28 357.19L171.15 357.57L172.02 357.96L172.89 358.36L173.77 358.78L174.64 359.20L175.51 359.64L176.38 360.10L177.25 360.57L178.13 361.06L179.00 361.56L179.87 362.08L180.74 362.62L181.61 363.17L182.49 363.75L183.36 364.34L184.23 364.96L185.10 365.59L185.97 366.24L186.85 366.91L187.72 367.60L188.59 368.31L189.46 369.04L190.33 369.79L191.21 370.56L192.08 371.36L192.95 372.17L193.82 373.02L194.69 373.89L195.57 374.80L196.44 375.73L197.31 376.70L198.18 377.69L199.05 378.72L199.93 379.78L200.80 380.87L201.67 381.98L202.54 383.12L203.41 384.29L204.29 385.47L205.16 386.67L206.03 387.89L206.90 389.12L207.77 390.36L208.65 391.62L209.52 392.89L210.39 394.18L211.26 395.48L212.13 396.79L213.01 398.11L213.88 399.44L214.75 400.79L215.62 402.15L216.49 403.52L217.37 404.90L218.24 406.28L219.11 407.67L219.98 409.06L220.85 410.46L221.73 411.85L222.60 413.24L223.47 414.63L224.34 416.01L225.21 417.39L226.09 418.76L226.96 420.13L227.83 421.49L228.70 422.84L229.57 424.19L230.45 425.53L231.32 426.86L232.19 428.19L233.06 429.50L233.93 430.81L234.81 432.11L235.68 433.39L236.55 434.66L237.42 435.92L238.29 437.15L239.17 438.36L240.04 439.55L240.91 440.72L241.78 441.86L242.65 442.97L243.53 444.05L244.40 445.11L245.27 446.14L246.14 447.13L247.01 448.10L247.89 449.03L248.76 449.93L249.63 450.79L250.50 451.63L251.37 452.43L252.25 453.20L253.12 453.94L253.99 454.65L254.86 455.34L255.73 455.99L256.61 456.62L257.48 457.21L258.35 457.79L259.22 458.33L260.09 458.85L260.97 459.34L261.84 459.81L262.71 460.25L263.58 460.66L264.45 461.04L265.33 461.39L266.20 461.72L267.07 462.02L267.94 462.29L268.81 462.54L269.69 462.77L270.56 462.98L271.43 463.17L272.30 463.35L273.17 463.53L274.05 463.69L274.92 463.85L275.79 464.00L276.66 464.15L277.53 464.30L278.41 464.45L279.28 464.59L280.15 464.74L281.02 464.88L281.89 465.02L282.77 465.16L283.64 465.31L284.51 465.45L285.38 465.59L286.25 465.74L287.13 465.88L288.00 466.02L288.87 466.16L289.74 466.30L290.61 466.44L291.49 466.58L292.36 466.72L293.23 466.86L294.10 467.00L294.97 467.13L295.85 467.27L296.72 467.40L297.59 467.53L298.46 467.66L299.33 467.79L300.21 467.92L301.08 468.04L301.95 468.17L302.82 468.29L303.69 468.41L304.57 468.54L305.44 468.66L306.31 468.78L307.18 468.90L308.05 469.02L308.93 469.14L309.80 469.25L310.67 469.37L311.54 469.49L312.41 469.60L313.29 469.72L314.16 469.83L315.03 469.95L315.90 470.06L316.77 470.17L317.65 470.28L318.52 470.39L319.39 470.50L320.26 470.61L321.13 470.71L322.01 470.82L322.88 470.92L323.75 471.03L324.62 471.13L325.49 471.23L326.37 471.33L327.24 471.43L328.11 471.52L328.98 471.62L329.85 471.72L330.73 471.81L331.60 471.91L332.47 472.00L333.34 472.09L334.21 472.19L335.09 472.28L335.96 472.38L336.83 472.47" stroke="#6b1408" stroke-width="2.0" fill="none" stroke-linejoin="round" stroke-linecap="round"/>
<path d="M127.55 342.50L128.42 342.78L129.29 343.07L130.17 343.37L131.04 343.66L131.91 343.95L132.78 344.23L133.65 344.49L134.53 344.74L135.40 344.97L136.27 345.18L137.14 345.37L138.01 345.54L138.89 345.71L139.76 345.87L140.63 346.03L141.50 346.19L142.37 346.35L143.25 346.51L144.12 346.68L144.99 346.86L145.86 347.04L146.73 347.22L147.61 347.40L148.48 347.58L149.35 347.77L150.22 347.95L151.09 348.14L151.97 348.32L152.84 348.50L153.71 348.68L154.58 348.85L155.45 349.02L156.33 349.19L157.20 349.36L158.07 349.52L158.94 349.69L159.81 349.87L160.69 350.05L161.56 350.23L162.43 350.43L163.30 350.63L164.17 350.84L165.05 351.06L165.92 351.29L166.79 351.52L167.66 351.77L168.53 352.01L169.41 352.26L170.28 352.51L171.15 352.76L172.02 353.02L172.89 353.28L173.77 353.54L174.64 353.80L175.51 354.07L176.38 354.34L177.25 354.62L178.13 354.91L179.00 355.21L179.87 355.52L180.74 355.84L181.61 356.17L182.49 356.51L183.36 356.87L184.23 357.24L185.10 357.62L185.97 358.01L186.85 358.41L187.72 358.82L188.59 359.24L189.46 359.68L190.33 360.12L191.21 360.58L192.08 361.05L192.95 361.53L193.82 362.02L194.69 362.53L195.57 363.06L196.44 363.61L197.31 364.17L198.18 364.74L199.05 365.34L199.93 365.96L200.80 366.59L201.67 367.24L202.54 367.90L203.41 368.58L204.29 369.28L205.16 369.98L206.03 370.71L206.90 371.45L207.77 372.20L208.65 372.98L209.52 373.77L210.39 374.59L211.26 375.43L212.13 376.30L213.01 377.20L213.88 378.14L214.75 379.12L215.62 380.13L216.49 381.18L217.37 382.27L218.24 383.40L219.11 384.56L219.98 385.76L220.85 387.00L221.73 388.26L222.60 389.55L223.47 390.87L224.34 392.21L225.21 393.58L226.09 394.98L226.96 396.41L227.83 397.86L228.70 399.33L229.57 400.84L230.45 402.37L231.32 403.93L232.19 405.52L233.06 407.13L233.93 408.77L234.81 410.43L235.68 412.12L236.55 413.83L237.42 415.55L238.29 417.28L239.17 419.03L240.04 420.79L240.91 422.55L241.78 424.32L242.65 426.08L243.53 427.84L244.40 429.60L245.27 431.35L246.14 433.08L247.01 434.80L247.89 436.50L248.76 438.18L249.63 439.83L250.50 441.45L251.37 443.04L252.25 444.59L253.12 446.09L253.99 447.54L254.86 448.92L255.73 450.25L256.61 451.50L257.48 452.69L258.35 453.80L259.22 454.84L260.09 455.81L260.97 456.71L261.84 457.54L262.71 458.31L263.58 459.03L264.45 459.70L265.33 460.31L266.20 460.88L267.07 461.41L267.94 461.90L268.81 462.35L269.69 462.78L270.56 463.17L271.43 463.53L272.30 463.88L273.17 464.20L274.05 464.50L274.92 464.78L275.79 465.04L276.66 465.29L277.53 465.53L278.41 465.76L279.28 465.97L280.15 466.18L281.02 466.38L281.89 466.56L282.77 466.74L283.64 466.92L284.51 467.09L285.38 467.25L286.25 467.41L287.13 467.57L288.00 467.72L288.87 467.86L289.74 468.01L290.61 468.15L291.49 468.28L292.36 468.42L293.23 468.55L294.10 468.68L294.97 468.81L295.85 468.93L296.72 469.05L297.59 469.16L298.46 469.28L299.33 469.39L300.21 469.49L301.08 469.59L301.95 469.68L302.82 469.77L303.69 469.86L304.57 469.94L305.44 470.01L306.31 470.09L307.18 470.16L308.05 470.22L308.93 470.29L309.80 470.35L310.67 470.41L311.54 470.47L312.41 470.53L313.29 470.59L314.16 470.65L315.03 470.70L315.90 470.76L316.77 470.82L317.65 470.88L318.52 470.94L319.39 471.00L320.26 471.06L321.13 471.12L322.01 471.18L322.88 471.25L323.75 471.32L324.62 471.39L325.49 471.46L326.37 471.53L327.24 471.61L328.11 471.68L328.98 471.76L329.85 471.84L330.73 471.91L331.60 471.99L332.47 472.07L333.34 472.15L334.21 472.23L335.09 472.31L335.96 472.39L336.83 472.47" stroke="#0a76b6" stroke-width="2.0" fill="none" stroke-linejoin="round" stroke-linecap="round"/>
<path d="M127.55 342.50L128.42 342.83L129.29 343.16L130.17 343.50L131.04 343.83L131.91 344.17L132.78 344.50L133.65 344.82L134.53 345.13L135.40 345.43L136.27 345.72L137.14 346.01L138.01 346.28L138.89 346.55L139.76 346.81L140.63 347.07L141.50 347.33L142.37 347.59L143.25 347.84L144.12 348.10L144.99 348.36L145.86 348.61L146.73 348.87L147.61 349.13L148.48 349.39L149.35 349.65L150.22 349.92L151.09 350.19L151.97 350.46L152.84 350.74L153.71 351.02L154.58 351.31L155.45 351.60L156.33 351.90L157.20 352.20L158.07 352.51L158.94 352.82L159.81 353.13L160.69 353.44L161.56 353.76L162.43 354.08L163.30 354.40L164.17 354.72L165.05 355.04L165.92 355.37L166.79 355.69L167.66 356.02L168.53 356.36L169.41 356.70L170.28 357.04L171.15 357.39L172.02 357.75L172.89 358.11L173.77 358.48L174.64 358.87L175.51 359.26L176.38 359.67L177.25 360.09L178.13 360.53L179.00 360.98L179.87 361.45L180.74 361.95L181.61 362.46L182.49 362.99L183.36 363.54L184.23 364.11L185.10 364.70L185.97 365.31L186.85 365.94L187.72 366.59L188.59 367.25L189.46 367.94L190.33 368.64L191.21 369.36L192.08 370.11L192.95 370.88L193.82 371.67L194.69 372.48L195.57 373.33L196.44 374.20L197.31 375.10L198.18 376.03L199.05 376.99L199.93 377.98L200.80 378.99L201.67 380.03L202.54 381.10L203.41 382.18L204.29 383.29L205.16 384.42L206.03 385.56L206.90 386.72L207.77 387.89L208.65 389.08L209.52 390.28L210.39 391.51L211.26 392.74L212.13 394.00L213.01 395.27L213.88 396.56L214.75 397.87L215.62 399.20L216.49 400.54L217.37 401.90L218.24 403.28L219.11 404.66L219.98 406.05L220.85 407.46L221.73 408.86L222.60 410.27L223.47 411.68L224.34 413.09L225.21 414.50L226.09 415.91L226.96 417.33L227.83 418.74L228.70 420.16L229.57 421.58L230.45 423.00L231.32 424.42L232.19 425.85L233.06 427.28L233.93 428.71L234.81 430.14L235.68 431.56L236.55 432.97L237.42 434.37L238.29 435.74L239.17 437.10L240.04 438.42L240.91 439.72L241.78 440.98L242.65 442.21L243.53 443.41L244.40 444.57L245.27 445.69L246.14 446.78L247.01 447.83L247.89 448.83L248.76 449.81L249.63 450.74L250.50 451.63L251.37 452.49L252.25 453.32L253.12 454.10L253.99 454.86L254.86 455.57L255.73 456.26L256.61 456.92L257.48 457.54L258.35 458.14L259.22 458.70L260.09 459.24L260.97 459.75L261.84 460.23L262.71 460.69L263.58 461.12L264.45 461.53L265.33 461.91L266.20 462.27L267.07 462.60L267.94 462.91L268.81 463.20L269.69 463.47L270.56 463.73L271.43 463.97L272.30 464.19L273.17 464.41L274.05 464.61L274.92 464.81L275.79 465.00L276.66 465.18L277.53 465.35L278.41 465.52L279.28 465.69L280.15 465.85L281.02 466.00L281.89 466.15L282.77 466.30L283.64 466.45L284.51 466.59L285.38 466.73L286.25 466.87L287.13 467.00L288.00 467.14L288.87 467.27L289.74 467.40L290.61 467.53L291.49 467.67L292.36 467.80L293.23 467.93L294.10 468.06L294.97 468.19L295.85 468.32L296.72 468.45L297.59 468.58L298.46 468.70L299.33 468.82L300.21 468.94L301.08 469.05L301.95 469.16L302.82 469.27L303.69 469.37L304.57 469.47L305.44 469.56L306.31 469.65L307.18 469.73L308.05 469.82L308.93 469.90L309.80 469.98L310.67 470.06L311.54 470.13L312.41 470.21L313.29 470.28L314.16 470.35L315.03 470.43L315.90 470.50L316.77 470.57L317.65 470.65L318.52 470.72L319.39 470.79L320.26 470.87L321.13 470.95L322.01 471.02L322.88 471.10L323.75 471.18L324.62 471.26L325.49 471.35L326.37 471.43L327.24 471.51L328.11 471.60L328.98 471.69L329.85 471.77L330.73 471.86L331.60 471.94L332.47 472.03L333.34 472.12L334.21 472.21L335.09 472.29L335.96 472.38L336.83 472.47" stroke="#e69f00" stroke-width="2.0" fill="none" stroke-linejoin="round" stroke-linecap="round"/>
<text x="131.20" y="449.40" font-size="8.3" fill="#000" stroke="#000" stroke-width="0.05" transform="rotate(0.03 131.20 449.40)">p &lt; 0.0001</text>
<rect x="116.67" y="335.87" width="239.46" height="142.66" fill="none" stroke="#333" stroke-width="0.54"/>
</g>
<g>
<rect x="360.75" y="335.6" width="239.85" height="143.20" fill="#fff"/>
<path d="M393.40 335.6V478.8M437.00 335.6V478.8M480.60 335.6V478.8M524.20 335.6V478.8M567.80 335.6V478.8M360.75 456.34H600.6M360.75 423.81H600.6M360.75 391.29H600.6M360.75 358.76H600.6" stroke="#f0f0f0" stroke-width="0.5" fill="none"/>
<path d="M371.60 335.6V478.8M415.20 335.6V478.8M458.80 335.6V478.8M502.40 335.6V478.8M546.00 335.6V478.8M589.60 335.6V478.8M360.75 472.60H600.6M360.75 440.07H600.6M360.75 407.55H600.6M360.75 375.02H600.6M360.75 342.50H600.6" stroke="#eaeaea" stroke-width="0.9" fill="none"/>
<path d="M371.60 342.50L372.47 342.77L373.34 343.05L374.22 343.32L375.09 343.60L375.96 343.87L376.83 344.15L377.70 344.42L378.58 344.69L379.45 344.96L380.32 345.23L381.19 345.50L382.06 345.76L382.94 346.03L383.81 346.29L384.68 346.55L385.55 346.81L386.42 347.06L387.30 347.31L388.17 347.55L389.04 347.78L389.91 348.02L390.78 348.25L391.66 348.48L392.53 348.71L393.40 348.94L394.27 349.17L395.14 349.40L396.02 349.63L396.89 349.87L397.76 350.11L398.63 350.36L399.50 350.61L400.38 350.87L401.25 351.13L402.12 351.40L402.99 351.68L403.86 351.96L404.74 352.24L405.61 352.53L406.48 352.83L407.35 353.13L408.22 353.44L409.10 353.75L409.97 354.06L410.84 354.39L411.71 354.71L412.58 355.05L413.46 355.39L414.33 355.73L415.20 356.08L416.07 356.44L416.94 356.80L417.82 357.18L418.69 357.56L419.56 357.96L420.43 358.37L421.30 358.79L422.18 359.23L423.05 359.69L423.92 360.17L424.79 360.66L425.66 361.18L426.54 361.73L427.41 362.29L428.28 362.87L429.15 363.48L430.02 364.11L430.90 364.76L431.77 365.43L432.64 366.12L433.51 366.83L434.38 367.56L435.26 368.32L436.13 369.09L437.00 369.89L437.87 370.72L438.74 371.57L439.62 372.44L440.49 373.35L441.36 374.27L442.23 375.23L443.10 376.21L443.98 377.22L444.85 378.26L445.72 379.32L446.59 380.41L447.46 381.52L448.34 382.65L449.21 383.81L450.08 384.99L450.95 386.19L451.82 387.41L452.70 388.65L453.57 389.90L454.44 391.18L455.31 392.48L456.18 393.79L457.06 395.11L457.93 396.46L458.80 397.81L459.67 399.18L460.54 400.56L461.42 401.95L462.29 403.34L463.16 404.74L464.03 406.14L464.90 407.53L465.78 408.92L466.65 410.31L467.52 411.68L468.39 413.04L469.26 414.40L470.14 415.75L471.01 417.09L471.88 418.42L472.75 419.76L473.62 421.09L474.50 422.43L475.37 423.77L476.24 425.11L477.11 426.46L477.98 427.81L478.86 429.16L479.73 430.51L480.60 431.86L481.47 433.19L482.34 434.51L483.22 435.81L484.09 437.09L484.96 438.34L485.83 439.57L486.70 440.77L487.58 441.94L488.45 443.08L489.32 444.19L490.19 445.27L491.06 446.31L491.94 447.32L492.81 448.29L493.68 449.23L494.55 450.14L495.42 451.00L496.30 451.83L497.17 452.63L498.04 453.38L498.91 454.10L499.78 454.77L500.66 455.40L501.53 455.99L502.40 456.54L503.27 457.06L504.14 457.53L505.02 457.98L505.89 458.39L506.76 458.77L507.63 459.14L508.50 459.48L509.38 459.80L510.25 460.11L511.12 460.40L511.99 460.68L512.86 460.95L513.74 461.21L514.61 461.46L515.48 461.70L516.35 461.92L517.22 462.14L518.10 462.36L518.97 462.56L519.84 462.75L520.71 462.94L521.58 463.12L522.46 463.29L523.33 463.46L524.20 463.63L525.07 463.79L525.94 463.95L526.82 464.12L527.69 464.28L528.56 464.44L529.43 464.60L530.30 464.77L531.18 464.93L532.05 465.09L532.92 465.26L533.79 465.42L534.66 465.58L535.54 465.73L536.41 465.88L537.28 466.03L538.15 466.17L539.02 466.30L539.90 466.43L540.77 466.56L541.64 466.68L542.51 466.80L543.38 466.92L544.26 467.04L545.13 467.15L546.00 467.26L546.87 467.38L547.74 467.49L548.62 467.60L549.49 467.71L550.36 467.82L551.23 467.93L552.10 468.04L552.98 468.15L553.85 468.26L554.72 468.37L555.59 468.48L556.46 468.59L557.34 468.70L558.21 468.82L559.08 468.93L559.95 469.04L560.82 469.16L561.70 469.28L562.57 469.40L563.44 469.52L564.31 469.64L565.18 469.77L566.06 469.90L566.93 470.03L567.80 470.16L568.67 470.30L569.54 470.44L570.42 470.59L571.29 470.74L572.16 470.89L573.03 471.04L573.90 471.19L574.78 471.35L575.65 471.51L576.52 471.67L577.39 471.83L578.26 471.99L579.14 472.15L580.01 472.31L580.88 472.47" stroke="#6b1408" stroke-width="2.0" fill="none" stroke-linejoin="round" stroke-linecap="round"/>
<path d="M371.60 342.50L372.47 342.74L373.34 342.98L374.22 343.23L375.09 343.47L375.96 343.71L376.83 343.95L377.70 344.18L378.58 344.40L379.45 344.61L380.32 344.82L381.19 345.01L382.06 345.20L382.94 345.38L383.81 345.55L384.68 345.72L385.55 345.89L386.42 346.05L387.30 346.20L388.17 346.35L389.04 346.49L389.91 346.63L390.78 346.77L391.66 346.91L392.53 347.05L393.40 347.19L394.27 347.32L395.14 347.46L396.02 347.59L396.89 347.73L397.76 347.87L398.63 348.02L399.50 348.16L400.38 348.31L401.25 348.46L402.12 348.61L402.99 348.76L403.86 348.92L404.74 349.07L405.61 349.23L406.48 349.38L407.35 349.54L408.22 349.69L409.10 349.85L409.97 350.01L410.84 350.17L411.71 350.34L412.58 350.51L413.46 350.69L414.33 350.87L415.20 351.07L416.07 351.27L416.94 351.48L417.82 351.70L418.69 351.93L419.56 352.17L420.43 352.42L421.30 352.67L422.18 352.94L423.05 353.21L423.92 353.48L424.79 353.77L425.66 354.06L426.54 354.35L427.41 354.66L428.28 354.97L429.15 355.29L430.02 355.61L430.90 355.95L431.77 356.30L432.64 356.65L433.51 357.02L434.38 357.39L435.26 357.78L436.13 358.19L437.00 358.60L437.87 359.03L438.74 359.48L439.62 359.95L440.49 360.43L441.36 360.93L442.23 361.45L443.10 361.99L443.98 362.55L444.85 363.12L445.72 363.72L446.59 364.34L447.46 364.97L448.34 365.63L449.21 366.30L450.08 366.98L450.95 367.69L451.82 368.41L452.70 369.15L453.57 369.91L454.44 370.68L455.31 371.48L456.18 372.30L457.06 373.14L457.93 374.00L458.80 374.88L459.67 375.79L460.54 376.72L461.42 377.67L462.29 378.65L463.16 379.65L464.03 380.67L464.90 381.71L465.78 382.78L466.65 383.86L467.52 384.97L468.39 386.10L469.26 387.26L470.14 388.44L471.01 389.66L471.88 390.90L472.75 392.18L473.62 393.49L474.50 394.84L475.37 396.24L476.24 397.68L477.11 399.16L477.98 400.69L478.86 402.26L479.73 403.87L480.60 405.52L481.47 407.20L482.34 408.91L483.22 410.65L484.09 412.40L484.96 414.17L485.83 415.96L486.70 417.76L487.58 419.56L488.45 421.37L489.32 423.18L490.19 424.98L491.06 426.79L491.94 428.58L492.81 430.36L493.68 432.13L494.55 433.88L495.42 435.61L496.30 437.31L497.17 438.97L498.04 440.60L498.91 442.18L499.78 443.71L500.66 445.19L501.53 446.60L502.40 447.96L503.27 449.25L504.14 450.48L505.02 451.65L505.89 452.75L506.76 453.80L507.63 454.79L508.50 455.72L509.38 456.59L510.25 457.41L511.12 458.18L511.99 458.89L512.86 459.56L513.74 460.19L514.61 460.77L515.48 461.30L516.35 461.80L517.22 462.25L518.10 462.67L518.97 463.05L519.84 463.40L520.71 463.72L521.58 464.01L522.46 464.27L523.33 464.51L524.20 464.74L525.07 464.95L525.94 465.15L526.82 465.34L527.69 465.53L528.56 465.71L529.43 465.88L530.30 466.06L531.18 466.23L532.05 466.40L532.92 466.57L533.79 466.73L534.66 466.89L535.54 467.04L536.41 467.19L537.28 467.33L538.15 467.47L539.02 467.61L539.90 467.74L540.77 467.86L541.64 467.99L542.51 468.11L543.38 468.22L544.26 468.34L545.13 468.45L546.00 468.56L546.87 468.66L547.74 468.77L548.62 468.88L549.49 468.98L550.36 469.08L551.23 469.19L552.10 469.29L552.98 469.39L553.85 469.49L554.72 469.59L555.59 469.69L556.46 469.79L557.34 469.88L558.21 469.98L559.08 470.08L559.95 470.17L560.82 470.27L561.70 470.37L562.57 470.46L563.44 470.56L564.31 470.65L565.18 470.75L566.06 470.85L566.93 470.94L567.80 471.04L568.67 471.13L569.54 471.23L570.42 471.33L571.29 471.42L572.16 471.52L573.03 471.61L573.90 471.71L574.78 471.80L575.65 471.90L576.52 471.99L577.39 472.09L578.26 472.18L579.14 472.28L580.01 472.37L580.88 472.47" stroke="#0a76b6" stroke-width="2.0" fill="none" stroke-linejoin="round" stroke-linecap="round"/>
<path d="M371.60 342.50L372.47 342.78L373.34 343.06L374.22 343.34L375.09 343.62L375.96 343.90L376.83 344.17L377.70 344.44L378.58 344.71L379.45 344.96L380.32 345.21L381.19 345.45L382.06 345.68L382.94 345.91L383.81 346.13L384.68 346.35L385.55 346.57L386.42 346.79L387.30 347.01L388.17 347.23L389.04 347.45L389.91 347.67L390.78 347.89L391.66 348.11L392.53 348.33L393.40 348.55L394.27 348.77L395.14 348.99L396.02 349.21L396.89 349.43L397.76 349.65L398.63 349.87L399.50 350.09L400.38 350.31L401.25 350.53L402.12 350.76L402.99 350.98L403.86 351.21L404.74 351.44L405.61 351.67L406.48 351.91L407.35 352.15L408.22 352.39L409.10 352.64L409.97 352.90L410.84 353.16L411.71 353.42L412.58 353.69L413.46 353.97L414.33 354.25L415.20 354.53L416.07 354.83L416.94 355.13L417.82 355.44L418.69 355.75L419.56 356.07L420.43 356.41L421.30 356.75L422.18 357.09L423.05 357.45L423.92 357.82L424.79 358.20L425.66 358.59L426.54 358.99L427.41 359.41L428.28 359.84L429.15 360.28L430.02 360.75L430.90 361.23L431.77 361.73L432.64 362.25L433.51 362.80L434.38 363.37L435.26 363.96L436.13 364.57L437.00 365.21L437.87 365.87L438.74 366.56L439.62 367.26L440.49 367.99L441.36 368.75L442.23 369.52L443.10 370.33L443.98 371.15L444.85 372.00L445.72 372.88L446.59 373.78L447.46 374.71L448.34 375.67L449.21 376.65L450.08 377.66L450.95 378.71L451.82 379.78L452.70 380.87L453.57 382.00L454.44 383.16L455.31 384.34L456.18 385.55L457.06 386.79L457.93 388.05L458.80 389.34L459.67 390.66L460.54 391.99L461.42 393.35L462.29 394.73L463.16 396.12L464.03 397.53L464.90 398.94L465.78 400.37L466.65 401.80L467.52 403.24L468.39 404.67L469.26 406.12L470.14 407.56L471.01 409.01L471.88 410.46L472.75 411.92L473.62 413.39L474.50 414.86L475.37 416.34L476.24 417.83L477.11 419.33L477.98 420.84L478.86 422.35L479.73 423.87L480.60 425.39L481.47 426.91L482.34 428.43L483.22 429.95L484.09 431.46L484.96 432.96L485.83 434.45L486.70 435.93L487.58 437.39L488.45 438.82L489.32 440.23L490.19 441.61L491.06 442.96L491.94 444.27L492.81 445.55L493.68 446.78L494.55 447.97L495.42 449.11L496.30 450.20L497.17 451.25L498.04 452.24L498.91 453.18L499.78 454.07L500.66 454.90L501.53 455.67L502.40 456.40L503.27 457.07L504.14 457.69L505.02 458.27L505.89 458.81L506.76 459.31L507.63 459.77L508.50 460.21L509.38 460.63L510.25 461.02L511.12 461.39L511.99 461.75L512.86 462.08L513.74 462.41L514.61 462.71L515.48 463.01L516.35 463.29L517.22 463.55L518.10 463.80L518.97 464.04L519.84 464.27L520.71 464.49L521.58 464.69L522.46 464.89L523.33 465.08L524.20 465.26L525.07 465.43L525.94 465.61L526.82 465.78L527.69 465.94L528.56 466.11L529.43 466.28L530.30 466.45L531.18 466.61L532.05 466.78L532.92 466.95L533.79 467.11L534.66 467.28L535.54 467.44L536.41 467.61L537.28 467.77L538.15 467.92L539.02 468.08L539.90 468.23L540.77 468.37L541.64 468.52L542.51 468.65L543.38 468.79L544.26 468.91L545.13 469.03L546.00 469.14L546.87 469.25L547.74 469.35L548.62 469.45L549.49 469.54L550.36 469.63L551.23 469.71L552.10 469.79L552.98 469.86L553.85 469.94L554.72 470.01L555.59 470.08L556.46 470.14L557.34 470.21L558.21 470.28L559.08 470.34L559.95 470.41L560.82 470.48L561.70 470.54L562.57 470.61L563.44 470.68L564.31 470.76L565.18 470.83L566.06 470.91L566.93 470.99L567.80 471.07L568.67 471.15L569.54 471.24L570.42 471.32L571.29 471.41L572.16 471.51L573.03 471.60L573.90 471.69L574.78 471.79L575.65 471.88L576.52 471.98L577.39 472.08L578.26 472.18L579.14 472.27L580.01 472.37L580.88 472.47" stroke="#e69f00" stroke-width="2.0" fill="none" stroke-linejoin="round" stroke-linecap="round"/>
<text x="375.55" y="449.40" font-size="8.3" fill="#000" stroke="#000" stroke-width="0.05" transform="rotate(0.03 375.55 449.40)">p &lt; 0.0001</text>
<rect x="361.02" y="335.87" width="239.31" height="142.66" fill="none" stroke="#333" stroke-width="0.54"/>
</g>
<path d="M114.5 178.40H116.9" stroke="#333" stroke-width="1.05"/>
<text x="112.5" y="181.50" font-size="9" fill="#4d4d4d" text-anchor="end" transform="rotate(0.03 112.5 181.50)">0.00</text>
<path d="M114.5 145.88H116.9" stroke="#333" stroke-width="1.05"/>
<text x="112.5" y="148.97" font-size="9" fill="#4d4d4d" text-anchor="end" transform="rotate(0.03 112.5 148.97)">0.25</text>
<path d="M114.5 113.35H116.9" stroke="#333" stroke-width="1.05"/>
<text x="112.5" y="116.45" font-size="9" fill="#4d4d4d" text-anchor="end" transform="rotate(0.03 112.5 116.45)">0.50</text>
<path d="M114.5 80.82H116.9" stroke="#333" stroke-width="1.05"/>
<text x="112.5" y="83.92" font-size="9" fill="#4d4d4d" text-anchor="end" transform="rotate(0.03 112.5 83.92)">0.75</text>
<path d="M114.5 48.30H116.9" stroke="#333" stroke-width="1.05"/>
<text x="112.5" y="51.40" font-size="9" fill="#4d4d4d" text-anchor="end" transform="rotate(0.03 112.5 51.40)">1.00</text>
<path d="M114.5 325.55H116.9" stroke="#333" stroke-width="1.05"/>
<text x="112.5" y="328.65" font-size="9" fill="#4d4d4d" text-anchor="end" transform="rotate(0.03 112.5 328.65)">0.00</text>
<path d="M114.5 293.02H116.9" stroke="#333" stroke-width="1.05"/>
<text x="112.5" y="296.12" font-size="9" fill="#4d4d4d" text-anchor="end" transform="rotate(0.03 112.5 296.12)">0.25</text>
<path d="M114.5 260.50H116.9" stroke="#333" stroke-width="1.05"/>
<text x="112.5" y="263.60" font-size="9" fill="#4d4d4d" text-anchor="end" transform="rotate(0.03 112.5 263.60)">0.50</text>
<path d="M114.5 227.97H116.9" stroke="#333" stroke-width="1.05"/>
<text x="112.5" y="231.07" font-size="9" fill="#4d4d4d" text-anchor="end" transform="rotate(0.03 112.5 231.07)">0.75</text>
<path d="M114.5 195.45H116.9" stroke="#333" stroke-width="1.05"/>
<text x="112.5" y="198.55" font-size="9" fill="#4d4d4d" text-anchor="end" transform="rotate(0.03 112.5 198.55)">1.00</text>
<path d="M114.5 472.60H116.9" stroke="#333" stroke-width="1.05"/>
<text x="112.5" y="475.70" font-size="9" fill="#4d4d4d" text-anchor="end" transform="rotate(0.03 112.5 475.70)">0.00</text>
<path d="M114.5 440.07H116.9" stroke="#333" stroke-width="1.05"/>
<text x="112.5" y="443.18" font-size="9" fill="#4d4d4d" text-anchor="end" transform="rotate(0.03 112.5 443.18)">0.25</text>
<path d="M114.5 407.55H116.9" stroke="#333" stroke-width="1.05"/>
<text x="112.5" y="410.65" font-size="9" fill="#4d4d4d" text-anchor="end" transform="rotate(0.03 112.5 410.65)">0.50</text>
<path d="M114.5 375.02H116.9" stroke="#333" stroke-width="1.05"/>
<text x="112.5" y="378.12" font-size="9" fill="#4d4d4d" text-anchor="end" transform="rotate(0.03 112.5 378.12)">0.75</text>
<path d="M114.5 342.50H116.9" stroke="#333" stroke-width="1.05"/>
<text x="112.5" y="345.60" font-size="9" fill="#4d4d4d" text-anchor="end" transform="rotate(0.03 112.5 345.60)">1.00</text>
<path d="M127.55 478.7V481.1" stroke="#333" stroke-width="1.05"/>
<text x="127.55" y="489.5" font-size="9" fill="#4d4d4d" text-anchor="middle" transform="rotate(0.03 127.55 489.5)">0</text>
<path d="M171.15 478.7V481.1" stroke="#333" stroke-width="1.05"/>
<text x="171.15" y="489.5" font-size="9" fill="#4d4d4d" text-anchor="middle" transform="rotate(0.03 171.15 489.5)">5</text>
<path d="M214.75 478.7V481.1" stroke="#333" stroke-width="1.05"/>
<text x="214.75" y="489.5" font-size="9" fill="#4d4d4d" text-anchor="middle" transform="rotate(0.03 214.75 489.5)">10</text>
<path d="M258.35 478.7V481.1" stroke="#333" stroke-width="1.05"/>
<text x="258.35" y="489.5" font-size="9" fill="#4d4d4d" text-anchor="middle" transform="rotate(0.03 258.35 489.5)">15</text>
<path d="M301.95 478.7V481.1" stroke="#333" stroke-width="1.05"/>
<text x="301.95" y="489.5" font-size="9" fill="#4d4d4d" text-anchor="middle" transform="rotate(0.03 301.95 489.5)">20</text>
<path d="M345.55 478.7V481.1" stroke="#333" stroke-width="1.05"/>
<text x="345.55" y="489.5" font-size="9" fill="#4d4d4d" text-anchor="middle" transform="rotate(0.03 345.55 489.5)">25</text>
<path d="M371.60 478.7V481.1" stroke="#333" stroke-width="1.05"/>
<text x="371.60" y="489.5" font-size="9" fill="#4d4d4d" text-anchor="middle" transform="rotate(0.03 371.60 489.5)">0</text>
<path d="M415.20 478.7V481.1" stroke="#333" stroke-width="1.05"/>
<text x="415.20" y="489.5" font-size="9" fill="#4d4d4d" text-anchor="middle" transform="rotate(0.03 415.20 489.5)">5</text>
<path d="M458.80 478.7V481.1" stroke="#333" stroke-width="1.05"/>
<text x="458.80" y="489.5" font-size="9" fill="#4d4d4d" text-anchor="middle" transform="rotate(0.03 458.80 489.5)">10</text>
<path d="M502.40 478.7V481.1" stroke="#333" stroke-width="1.05"/>
<text x="502.40" y="489.5" font-size="9" fill="#4d4d4d" text-anchor="middle" transform="rotate(0.03 502.40 489.5)">15</text>
<path d="M546.00 478.7V481.1" stroke="#333" stroke-width="1.05"/>
<text x="546.00" y="489.5" font-size="9" fill="#4d4d4d" text-anchor="middle" transform="rotate(0.03 546.00 489.5)">20</text>
<path d="M589.60 478.7V481.1" stroke="#333" stroke-width="1.05"/>
<text x="589.60" y="489.5" font-size="9" fill="#4d4d4d" text-anchor="middle" transform="rotate(0.03 589.60 489.5)">25</text>
<text x="358.7" y="500.6" font-size="10.5" fill="#000" text-anchor="middle" transform="rotate(0.03 358.7 500.6)">Years</text>
<text transform="translate(91.0,260.6) rotate(-89.97)" font-size="10.5" fill="#000" text-anchor="middle">Survival Probability</text>
<rect x="241.2" y="516.0" width="11.8" height="11.9" fill="#d9c5c2"/>
<path d="M242.00 521.9H252.30" stroke="#7a2419" stroke-width="1.9"/>
<text x="257.9" y="525.2" font-size="9.06" fill="#000" transform="rotate(0.03 257.9 525.2)">Brachycephalic</text>
<rect x="324.3" y="516.0" width="11.8" height="11.9" fill="#bcdaec"/>
<path d="M325.10 521.9H335.40" stroke="#1f80bc" stroke-width="1.9"/>
<text x="340.8" y="525.2" font-size="9.06" fill="#000" transform="rotate(0.03 340.8 525.2)">Mesocephalic</text>
<rect x="401.0" y="516.0" width="11.8" height="11.9" fill="#f9e4b8"/>
<path d="M401.80 521.9H412.10" stroke="#e8a30f" stroke-width="1.9"/>
<text x="417.5" y="525.2" font-size="9.06" fill="#000" transform="rotate(0.03 417.5 525.2)">Dolichocephalic</text>
<path d="M0 540.50H685M0 565.00H685M0 577.58H685M0 590.17H685M0 602.75H685M0 615.33H685M0 627.91H685M0 640.50H685M0 653.08H685M0 665.66H685M0 678.25H685M0 690.83H685M0 703.41H685M0 716.00H685M0 728.58H685M0 741.16H685M0 753.75H685M0 766.33H685M0 778.91H685M0 791.49H685M0.5 540.0V791.99M77.5 540.0V791.99M181.0 540.0V791.99M234.5 540.0V791.99M282.8 540.0V791.99M331.5 540.0V791.99M390.5 540.0V791.99M447.8 540.0V791.99M505.3 540.0V791.99M620.5 540.0V791.99M684.5 540.0V791.99" stroke="#444" stroke-width="1" fill="none"/>
<text x="7.30" y="556.60" font-size="10.35" fill="#000" font-weight="bold" transform="rotate(0.03 7.30 556.60)">Size</text>
<text x="84.90" y="556.60" font-size="10.35" fill="#000" font-weight="bold" transform="rotate(0.03 84.90 556.60)">Cephalic Index</text>
<text x="188.30" y="556.60" font-size="10.35" fill="#000" font-weight="bold" transform="rotate(0.03 188.30 556.60)">Sex</text>
<text x="252.75" y="556.6" font-size="11" font-family='"Liberation Serif", serif' font-weight="bold" font-style="italic" fill="#000" stroke="#000" stroke-width="0.25" transform="rotate(0.03 252.75 556.6)">N<tspan font-size="7.6" dy="2.2" dx="-0.6">A</tspan></text>
<text x="301.25" y="556.6" font-size="11" font-family='"Liberation Serif", serif' font-weight="bold" font-style="italic" fill="#000" stroke="#000" stroke-width="0.25" transform="rotate(0.03 301.25 556.6)">N<tspan font-size="7.6" dy="2.2" dx="-0.6">D</tspan></text>
<text x="338.30" y="549.90" font-size="10.35" fill="#000" font-weight="bold" transform="rotate(0.03 338.30 549.90)">Median</text>
<text x="338.30" y="562.30" font-size="10.35" fill="#000" font-weight="bold" transform="rotate(0.03 338.30 562.30)">Survival</text>
<text x="397.30" y="549.90" font-size="10.35" fill="#000" font-weight="bold" font-style="italic" transform="rotate(0.03 397.30 549.90)">Lower</text>
<text x="397.30" y="562.30" font-size="10.35" fill="#000" font-weight="bold" font-style="italic" transform="rotate(0.03 397.30 562.30)">95% CI</text>
<text x="455.00" y="549.90" font-size="10.35" fill="#000" font-weight="bold" font-style="italic" transform="rotate(0.03 455.00 549.90)">Upper</text>
<text x="455.00" y="562.30" font-size="10.35" fill="#000" font-weight="bold" font-style="italic" transform="rotate(0.03 455.00 562.30)">95% CI</text>
<text x="512.10" y="556.60" font-size="10.35" fill="#000" font-weight="bold" transform="rotate(0.03 512.10 556.60)">HR (95% CI)</text>
<text x="627.70" y="556.60" font-size="10.35" fill="#000" font-weight="bold" transform="rotate(0.03 627.70 556.60)">p-value</text>
<text x="7.30" y="575.08" font-size="10.35" fill="#000"  transform="rotate(0.03 7.30 575.08)">Medium</text>
<text x="84.90" y="575.08" font-size="10.35" fill="#000"  transform="rotate(0.03 84.90 575.08)">Brachycephalic</text>
<text x="188.30" y="575.08" font-size="10.35" fill="#000"  transform="rotate(0.03 188.30 575.08)">Male</text>
<text x="241.80" y="575.08" font-size="10.35" fill="#000"  transform="rotate(0.03 241.80 575.08)">5072</text>
<text x="290.30" y="575.08" font-size="10.35" fill="#000"  transform="rotate(0.03 290.30 575.08)">2541</text>
<text x="338.30" y="575.08" font-size="10.35" fill="#000"  transform="rotate(0.03 338.30 575.08)">9.1</text>
<text x="397.30" y="575.08" font-size="10.35" fill="#000"  transform="rotate(0.03 397.30 575.08)">9</text>
<text x="455.00" y="575.08" font-size="10.35" fill="#000"  transform="rotate(0.03 455.00 575.08)">9.3</text>
<text x="512.10" y="575.08" font-size="10.35" fill="#000"  transform="rotate(0.03 512.10 575.08)">2.85 (2.71, 3.00)</text>
<text x="627.70" y="575.08" font-size="10.35" fill="#000"  transform="rotate(0.03 627.70 575.08)">&lt;0.001</text>
<text x="7.30" y="587.67" font-size="10.35" fill="#000"  transform="rotate(0.03 7.30 587.67)">Medium</text>
<text x="84.90" y="587.67" font-size="10.35" fill="#000"  transform="rotate(0.03 84.90 587.67)">Brachycephalic</text>
<text x="188.30" y="587.67" font-size="10.35" fill="#000"  transform="rotate(0.03 188.30 587.67)">Female</text>
<text x="241.80" y="587.67" font-size="10.35" fill="#000"  transform="rotate(0.03 241.80 587.67)">4637</text>
<text x="290.30" y="587.67" font-size="10.35" fill="#000"  transform="rotate(0.03 290.30 587.67)">2202</text>
<text x="338.30" y="587.67" font-size="10.35" fill="#000"  transform="rotate(0.03 338.30 587.67)">9.6</text>
<text x="397.30" y="587.67" font-size="10.35" fill="#000"  transform="rotate(0.03 397.30 587.67)">9.4</text>
<text x="455.00" y="587.67" font-size="10.35" fill="#000"  transform="rotate(0.03 455.00 587.67)">9.8</text>
<text x="512.10" y="587.67" font-size="10.35" fill="#000"  transform="rotate(0.03 512.10 587.67)">2.68 (2.54, 2.83)</text>
<text x="627.70" y="587.67" font-size="10.35" fill="#000"  transform="rotate(0.03 627.70 587.67)">&lt;0.001</text>
<text x="7.30" y="600.25" font-size="10.35" fill="#000"  transform="rotate(0.03 7.30 600.25)">Large</text>
<text x="84.90" y="600.25" font-size="10.35" fill="#000"  transform="rotate(0.03 84.90 600.25)">Brachycephalic</text>
<text x="188.30" y="600.25" font-size="10.35" fill="#000"  transform="rotate(0.03 188.30 600.25)">Male</text>
<text x="241.80" y="600.25" font-size="10.35" fill="#000"  transform="rotate(0.03 241.80 600.25)">9317</text>
<text x="290.30" y="600.25" font-size="10.35" fill="#000"  transform="rotate(0.03 290.30 600.25)">5289</text>
<text x="338.30" y="600.25" font-size="10.35" fill="#000"  transform="rotate(0.03 338.30 600.25)">10.6</text>
<text x="397.30" y="600.25" font-size="10.35" fill="#000"  transform="rotate(0.03 397.30 600.25)">10.5</text>
<text x="455.00" y="600.25" font-size="10.35" fill="#000"  transform="rotate(0.03 455.00 600.25)">10.7</text>
<text x="512.10" y="600.25" font-size="10.35" fill="#000"  transform="rotate(0.03 512.10 600.25)">2.01 (1.93, 2.10)</text>
<text x="627.70" y="600.25" font-size="10.35" fill="#000"  transform="rotate(0.03 627.70 600.25)">&lt;0.001</text>
<text x="7.30" y="612.83" font-size="10.35" fill="#000"  transform="rotate(0.03 7.30 612.83)">Large</text>
<text x="84.90" y="612.83" font-size="10.35" fill="#000"  transform="rotate(0.03 84.90 612.83)">Brachycephalic</text>
<text x="188.30" y="612.83" font-size="10.35" fill="#000"  transform="rotate(0.03 188.30 612.83)">Female</text>
<text x="241.80" y="612.83" font-size="10.35" fill="#000"  transform="rotate(0.03 241.80 612.83)">8354</text>
<text x="290.30" y="612.83" font-size="10.35" fill="#000"  transform="rotate(0.03 290.30 612.83)">4761</text>
<text x="338.30" y="612.83" font-size="10.35" fill="#000"  transform="rotate(0.03 338.30 612.83)">10.8</text>
<text x="397.30" y="612.83" font-size="10.35" fill="#000"  transform="rotate(0.03 397.30 612.83)">10.6</text>
<text x="455.00" y="612.83" font-size="10.35" fill="#000"  transform="rotate(0.03 455.00 612.83)">10.9</text>
<text x="512.10" y="612.83" font-size="10.35" fill="#000"  transform="rotate(0.03 512.10 612.83)">1.95 (1.87, 2.04)</text>
<text x="627.70" y="612.83" font-size="10.35" fill="#000"  transform="rotate(0.03 627.70 612.83)">&lt;0.001</text>
<text x="7.30" y="625.41" font-size="10.35" fill="#000"  transform="rotate(0.03 7.30 625.41)">Large</text>
<text x="84.90" y="625.41" font-size="10.35" fill="#000"  transform="rotate(0.03 84.90 625.41)">Dolichocephalic</text>
<text x="188.30" y="625.41" font-size="10.35" fill="#000"  transform="rotate(0.03 188.30 625.41)">Male</text>
<text x="241.80" y="625.41" font-size="10.35" fill="#000"  transform="rotate(0.03 241.80 625.41)">14278</text>
<text x="290.30" y="625.41" font-size="10.35" fill="#000"  transform="rotate(0.03 290.30 625.41)">8641</text>
<text x="338.30" y="625.41" font-size="10.35" fill="#000"  transform="rotate(0.03 338.30 625.41)">10.8</text>
<text x="397.30" y="625.41" font-size="10.35" fill="#000"  transform="rotate(0.03 397.30 625.41)">10.8</text>
<text x="455.00" y="625.41" font-size="10.35" fill="#000"  transform="rotate(0.03 455.00 625.41)">11</text>
<text x="512.10" y="625.41" font-size="10.35" fill="#000"  transform="rotate(0.03 512.10 625.41)">1.92 (1.85, 2.00)</text>
<text x="627.70" y="625.41" font-size="10.35" fill="#000"  transform="rotate(0.03 627.70 625.41)">&lt;0.001</text>
<text x="7.30" y="638.00" font-size="10.35" fill="#000"  transform="rotate(0.03 7.30 638.00)">Large</text>
<text x="84.90" y="638.00" font-size="10.35" fill="#000"  transform="rotate(0.03 84.90 638.00)">Dolichocephalic</text>
<text x="188.30" y="638.00" font-size="10.35" fill="#000"  transform="rotate(0.03 188.30 638.00)">Female</text>
<text x="241.80" y="638.00" font-size="10.35" fill="#000"  transform="rotate(0.03 241.80 638.00)">13836</text>
<text x="290.30" y="638.00" font-size="10.35" fill="#000"  transform="rotate(0.03 290.30 638.00)">8263</text>
<text x="338.30" y="638.00" font-size="10.35" fill="#000"  transform="rotate(0.03 338.30 638.00)">11.3</text>
<text x="397.30" y="638.00" font-size="10.35" fill="#000"  transform="rotate(0.03 397.30 638.00)">11.3</text>
<text x="455.00" y="638.00" font-size="10.35" fill="#000"  transform="rotate(0.03 455.00 638.00)">11.4</text>
<text x="512.10" y="638.00" font-size="10.35" fill="#000"  transform="rotate(0.03 512.10 638.00)">1.72 (1.65, 1.78)</text>
<text x="627.70" y="638.00" font-size="10.35" fill="#000"  transform="rotate(0.03 627.70 638.00)">&lt;0.001</text>
<text x="7.30" y="650.58" font-size="10.35" fill="#000"  transform="rotate(0.03 7.30 650.58)">Small</text>
<text x="84.90" y="650.58" font-size="10.35" fill="#000"  transform="rotate(0.03 84.90 650.58)">Brachycephalic</text>
<text x="188.30" y="650.58" font-size="10.35" fill="#000"  transform="rotate(0.03 188.30 650.58)">Male</text>
<text x="241.80" y="650.58" font-size="10.35" fill="#000"  transform="rotate(0.03 241.80 650.58)">30888</text>
<text x="290.30" y="650.58" font-size="10.35" fill="#000"  transform="rotate(0.03 290.30 650.58)">13228</text>
<text x="338.30" y="650.58" font-size="10.35" fill="#000"  transform="rotate(0.03 338.30 650.58)">11.8</text>
<text x="397.30" y="650.58" font-size="10.35" fill="#000"  transform="rotate(0.03 397.30 650.58)">11.8</text>
<text x="455.00" y="650.58" font-size="10.35" fill="#000"  transform="rotate(0.03 455.00 650.58)">11.9</text>
<text x="512.10" y="650.58" font-size="10.35" fill="#000"  transform="rotate(0.03 512.10 650.58)">1.56 (1.50, 1.62)</text>
<text x="627.70" y="650.58" font-size="10.35" fill="#000"  transform="rotate(0.03 627.70 650.58)">&lt;0.001</text>
<text x="7.30" y="663.16" font-size="10.35" fill="#000"  transform="rotate(0.03 7.30 663.16)">Small</text>
<text x="84.90" y="663.16" font-size="10.35" fill="#000"  transform="rotate(0.03 84.90 663.16)">Brachycephalic</text>
<text x="188.30" y="663.16" font-size="10.35" fill="#000"  transform="rotate(0.03 188.30 663.16)">Female</text>
<text x="241.80" y="663.16" font-size="10.35" fill="#000"  transform="rotate(0.03 241.80 663.16)">29835</text>
<text x="290.30" y="663.16" font-size="10.35" fill="#000"  transform="rotate(0.03 290.30 663.16)">12623</text>
<text x="338.30" y="663.16" font-size="10.35" fill="#000"  transform="rotate(0.03 338.30 663.16)">11.9</text>
<text x="397.30" y="663.16" font-size="10.35" fill="#000"  transform="rotate(0.03 397.30 663.16)">11.8</text>
<text x="455.00" y="663.16" font-size="10.35" fill="#000"  transform="rotate(0.03 455.00 663.16)">12</text>
<text x="512.10" y="663.16" font-size="10.35" fill="#000"  transform="rotate(0.03 512.10 663.16)">1.54 (1.49, 1.60)</text>
<text x="627.70" y="663.16" font-size="10.35" fill="#000"  transform="rotate(0.03 627.70 663.16)">&lt;0.001</text>
<text x="7.30" y="675.75" font-size="10.35" fill="#000"  transform="rotate(0.03 7.30 675.75)">Medium</text>
<text x="84.90" y="675.75" font-size="10.35" fill="#000"  transform="rotate(0.03 84.90 675.75)">Dolichocephalic</text>
<text x="188.30" y="675.75" font-size="10.35" fill="#000"  transform="rotate(0.03 188.30 675.75)">Male</text>
<text x="241.80" y="675.75" font-size="10.35" fill="#000"  transform="rotate(0.03 241.80 675.75)">6656</text>
<text x="290.30" y="675.75" font-size="10.35" fill="#000"  transform="rotate(0.03 290.30 675.75)">3440</text>
<text x="338.30" y="675.75" font-size="10.35" fill="#000"  transform="rotate(0.03 338.30 675.75)">12.2</text>
<text x="397.30" y="675.75" font-size="10.35" fill="#000"  transform="rotate(0.03 397.30 675.75)">12</text>
<text x="455.00" y="675.75" font-size="10.35" fill="#000"  transform="rotate(0.03 455.00 675.75)">12.3</text>
<text x="512.10" y="675.75" font-size="10.35" fill="#000"  transform="rotate(0.03 512.10 675.75)">1.35 (1.28, 1.41)</text>
<text x="627.70" y="675.75" font-size="10.35" fill="#000"  transform="rotate(0.03 627.70 675.75)">&lt;0.001</text>
<text x="7.30" y="688.33" font-size="10.35" fill="#000"  transform="rotate(0.03 7.30 688.33)">Large</text>
<text x="84.90" y="688.33" font-size="10.35" fill="#000"  transform="rotate(0.03 84.90 688.33)">Mesocephalic</text>
<text x="188.30" y="688.33" font-size="10.35" fill="#000"  transform="rotate(0.03 188.30 688.33)">Male</text>
<text x="241.80" y="688.33" font-size="10.35" fill="#000"  transform="rotate(0.03 241.80 688.33)">39588</text>
<text x="290.30" y="688.33" font-size="10.35" fill="#000"  transform="rotate(0.03 290.30 688.33)">18656</text>
<text x="338.30" y="688.33" font-size="10.35" fill="#000"  transform="rotate(0.03 338.30 688.33)">12.3</text>
<text x="397.30" y="688.33" font-size="10.35" fill="#000"  transform="rotate(0.03 397.30 688.33)">12.2</text>
<text x="455.00" y="688.33" font-size="10.35" fill="#000"  transform="rotate(0.03 455.00 688.33)">12.3</text>
<text x="512.10" y="688.33" font-size="10.35" fill="#000"  transform="rotate(0.03 512.10 688.33)">1.42 (1.37, 1.47)</text>
<text x="627.70" y="688.33" font-size="10.35" fill="#000"  transform="rotate(0.03 627.70 688.33)">&lt;0.001</text>
<text x="7.30" y="700.91" font-size="10.35" fill="#000"  transform="rotate(0.03 7.30 700.91)">Medium</text>
<text x="84.90" y="700.91" font-size="10.35" fill="#000"  transform="rotate(0.03 84.90 700.91)">Dolichocephalic</text>
<text x="188.30" y="700.91" font-size="10.35" fill="#000"  transform="rotate(0.03 188.30 700.91)">Female</text>
<text x="241.80" y="700.91" font-size="10.35" fill="#000"  transform="rotate(0.03 241.80 700.91)">6416</text>
<text x="290.30" y="700.91" font-size="10.35" fill="#000"  transform="rotate(0.03 290.30 700.91)">3249</text>
<text x="338.30" y="700.91" font-size="10.35" fill="#000"  transform="rotate(0.03 338.30 700.91)">12.5</text>
<text x="397.30" y="700.91" font-size="10.35" fill="#000"  transform="rotate(0.03 397.30 700.91)">12.3</text>
<text x="455.00" y="700.91" font-size="10.35" fill="#000"  transform="rotate(0.03 455.00 700.91)">12.6</text>
<text x="512.10" y="700.91" font-size="10.35" fill="#000"  transform="rotate(0.03 512.10 700.91)">1.27 (1.21, 1.34)</text>
<text x="627.70" y="700.91" font-size="10.35" fill="#000"  transform="rotate(0.03 627.70 700.91)">&lt;0.001</text>
<text x="7.30" y="713.50" font-size="10.35" fill="#000"  transform="rotate(0.03 7.30 713.50)">Large</text>
<text x="84.90" y="713.50" font-size="10.35" fill="#000"  transform="rotate(0.03 84.90 713.50)">Mesocephalic</text>
<text x="188.30" y="713.50" font-size="10.35" fill="#000"  transform="rotate(0.03 188.30 713.50)">Female</text>
<text x="241.80" y="713.50" font-size="10.35" fill="#000"  transform="rotate(0.03 241.80 713.50)">37111</text>
<text x="290.30" y="713.50" font-size="10.35" fill="#000"  transform="rotate(0.03 290.30 713.50)">16366</text>
<text x="338.30" y="713.50" font-size="10.35" fill="#000"  transform="rotate(0.03 338.30 713.50)">12.7</text>
<text x="397.30" y="713.50" font-size="10.35" fill="#000"  transform="rotate(0.03 397.30 713.50)">12.6</text>
<text x="455.00" y="713.50" font-size="10.35" fill="#000"  transform="rotate(0.03 455.00 713.50)">12.7</text>
<text x="512.10" y="713.50" font-size="10.35" fill="#000"  transform="rotate(0.03 512.10 713.50)">1.25 (1.21, 1.30)</text>
<text x="627.70" y="713.50" font-size="10.35" fill="#000"  transform="rotate(0.03 627.70 713.50)">&lt;0.001</text>
<text x="7.30" y="726.08" font-size="10.35" fill="#000"  transform="rotate(0.03 7.30 726.08)">Medium</text>
<text x="84.90" y="726.08" font-size="10.35" fill="#000"  transform="rotate(0.03 84.90 726.08)">Mesocephalic</text>
<text x="188.30" y="726.08" font-size="10.35" fill="#000"  transform="rotate(0.03 188.30 726.08)">Male</text>
<text x="241.80" y="726.08" font-size="10.35" fill="#000"  transform="rotate(0.03 241.80 726.08)">26188</text>
<text x="290.30" y="726.08" font-size="10.35" fill="#000"  transform="rotate(0.03 290.30 726.08)">13046</text>
<text x="338.30" y="726.08" font-size="10.35" fill="#000"  transform="rotate(0.03 338.30 726.08)">12.8</text>
<text x="397.30" y="726.08" font-size="10.35" fill="#000"  transform="rotate(0.03 397.30 726.08)">12.7</text>
<text x="455.00" y="726.08" font-size="10.35" fill="#000"  transform="rotate(0.03 455.00 726.08)">12.8</text>
<text x="512.10" y="726.08" font-size="10.35" fill="#000"  transform="rotate(0.03 512.10 726.08)">1.27 (1.22, 1.32)</text>
<text x="627.70" y="726.08" font-size="10.35" fill="#000"  transform="rotate(0.03 627.70 726.08)">&lt;0.001</text>
<text x="7.30" y="738.66" font-size="10.35" fill="#000"  transform="rotate(0.03 7.30 738.66)">Small</text>
<text x="84.90" y="738.66" font-size="10.35" fill="#000"  transform="rotate(0.03 84.90 738.66)">Mesocephalic</text>
<text x="188.30" y="738.66" font-size="10.35" fill="#000"  transform="rotate(0.03 188.30 738.66)">Male</text>
<text x="241.80" y="738.66" font-size="10.35" fill="#000"  transform="rotate(0.03 241.80 738.66)">72189</text>
<text x="290.30" y="738.66" font-size="10.35" fill="#000"  transform="rotate(0.03 290.30 738.66)">40531</text>
<text x="338.30" y="738.66" font-size="10.35" fill="#000"  transform="rotate(0.03 338.30 738.66)">12.8</text>
<text x="397.30" y="738.66" font-size="10.35" fill="#000"  transform="rotate(0.03 397.30 738.66)">12.8</text>
<text x="455.00" y="738.66" font-size="10.35" fill="#000"  transform="rotate(0.03 455.00 738.66)">12.9</text>
<text x="512.10" y="738.66" font-size="10.35" fill="#000"  transform="rotate(0.03 512.10 738.66)">1.24 (1.19, 1.28)</text>
<text x="627.70" y="738.66" font-size="10.35" fill="#000"  transform="rotate(0.03 627.70 738.66)">&lt;0.001</text>
<text x="7.30" y="751.25" font-size="10.35" fill="#000"  transform="rotate(0.03 7.30 751.25)">Small</text>
<text x="84.90" y="751.25" font-size="10.35" fill="#000"  transform="rotate(0.03 84.90 751.25)">Mesocephalic</text>
<text x="188.30" y="751.25" font-size="10.35" fill="#000"  transform="rotate(0.03 188.30 751.25)">Female</text>
<text x="241.80" y="751.25" font-size="10.35" fill="#000"  transform="rotate(0.03 241.80 751.25)">68835</text>
<text x="290.30" y="751.25" font-size="10.35" fill="#000"  transform="rotate(0.03 290.30 751.25)">38449</text>
<text x="338.30" y="751.25" font-size="10.35" fill="#000"  transform="rotate(0.03 338.30 751.25)">12.9</text>
<text x="397.30" y="751.25" font-size="10.35" fill="#000"  transform="rotate(0.03 397.30 751.25)">12.8</text>
<text x="455.00" y="751.25" font-size="10.35" fill="#000"  transform="rotate(0.03 455.00 751.25)">12.9</text>
<text x="512.10" y="751.25" font-size="10.35" fill="#000"  transform="rotate(0.03 512.10 751.25)">1.20 (1.16, 1.24)</text>
<text x="627.70" y="751.25" font-size="10.35" fill="#000"  transform="rotate(0.03 627.70 751.25)">&lt;0.001</text>
<text x="7.30" y="763.83" font-size="10.35" fill="#000"  transform="rotate(0.03 7.30 763.83)">Medium</text>
<text x="84.90" y="763.83" font-size="10.35" fill="#000"  transform="rotate(0.03 84.90 763.83)">Mesocephalic</text>
<text x="188.30" y="763.83" font-size="10.35" fill="#000"  transform="rotate(0.03 188.30 763.83)">Female</text>
<text x="241.80" y="763.83" font-size="10.35" fill="#000"  transform="rotate(0.03 241.80 763.83)">23842</text>
<text x="290.30" y="763.83" font-size="10.35" fill="#000"  transform="rotate(0.03 290.30 763.83)">11309</text>
<text x="338.30" y="763.83" font-size="10.35" fill="#000"  transform="rotate(0.03 338.30 763.83)">13</text>
<text x="397.30" y="763.83" font-size="10.35" fill="#000"  transform="rotate(0.03 397.30 763.83)">13</text>
<text x="455.00" y="763.83" font-size="10.35" fill="#000"  transform="rotate(0.03 455.00 763.83)">13.1</text>
<text x="512.10" y="763.83" font-size="10.35" fill="#000"  transform="rotate(0.03 512.10 763.83)">1.16 (1.12, 1.21)</text>
<text x="627.70" y="763.83" font-size="10.35" fill="#000"  transform="rotate(0.03 627.70 763.83)">&lt;0.001</text>
<text x="7.30" y="776.41" font-size="10.35" fill="#000"  transform="rotate(0.03 7.30 776.41)">Small</text>
<text x="84.90" y="776.41" font-size="10.35" fill="#000"  transform="rotate(0.03 84.90 776.41)">Dolichocephalic</text>
<text x="188.30" y="776.41" font-size="10.35" fill="#000"  transform="rotate(0.03 188.30 776.41)">Male</text>
<text x="241.80" y="776.41" font-size="10.35" fill="#000"  transform="rotate(0.03 241.80 776.41)">9958</text>
<text x="290.30" y="776.41" font-size="10.35" fill="#000"  transform="rotate(0.03 290.30 776.41)">3728</text>
<text x="338.30" y="776.41" font-size="10.35" fill="#000"  transform="rotate(0.03 338.30 776.41)">13.3</text>
<text x="397.30" y="776.41" font-size="10.35" fill="#000"  transform="rotate(0.03 397.30 776.41)">13.2</text>
<text x="455.00" y="776.41" font-size="10.35" fill="#000"  transform="rotate(0.03 455.00 776.41)">13.4</text>
<text x="512.10" y="776.41" font-size="10.35" fill="#000"  transform="rotate(0.03 512.10 776.41)">1.06 (1.01, 1.11)</text>
<text x="627.70" y="776.41" font-size="10.35" fill="#000"  transform="rotate(0.03 627.70 776.41)">0.013</text>
<text x="7.30" y="788.99" font-size="10.35" fill="#000"  transform="rotate(0.03 7.30 788.99)">Small</text>
<text x="84.90" y="788.99" font-size="10.35" fill="#000"  transform="rotate(0.03 84.90 788.99)">Dolichocephalic</text>
<text x="188.30" y="788.99" font-size="10.35" fill="#000"  transform="rotate(0.03 188.30 788.99)">Female</text>
<text x="241.80" y="788.99" font-size="10.35" fill="#000"  transform="rotate(0.03 241.80 788.99)">9647</text>
<text x="290.30" y="788.99" font-size="10.35" fill="#000"  transform="rotate(0.03 290.30 788.99)">3504</text>
<text x="338.30" y="788.99" font-size="10.35" fill="#000"  transform="rotate(0.03 338.30 788.99)">13.3</text>
<text x="397.30" y="788.99" font-size="10.35" fill="#000"  transform="rotate(0.03 397.30 788.99)">13.2</text>
<text x="455.00" y="788.99" font-size="10.35" fill="#000"  transform="rotate(0.03 455.00 788.99)">13.4</text>
<text x="512.10" y="788.99" font-size="10.35" fill="#000"  transform="rotate(0.03 512.10 788.99)">NA</text>
<text x="627.70" y="788.99" font-size="10.35" fill="#000"  transform="rotate(0.03 627.70 788.99)">NA</text>
</svg>
</body></html>
